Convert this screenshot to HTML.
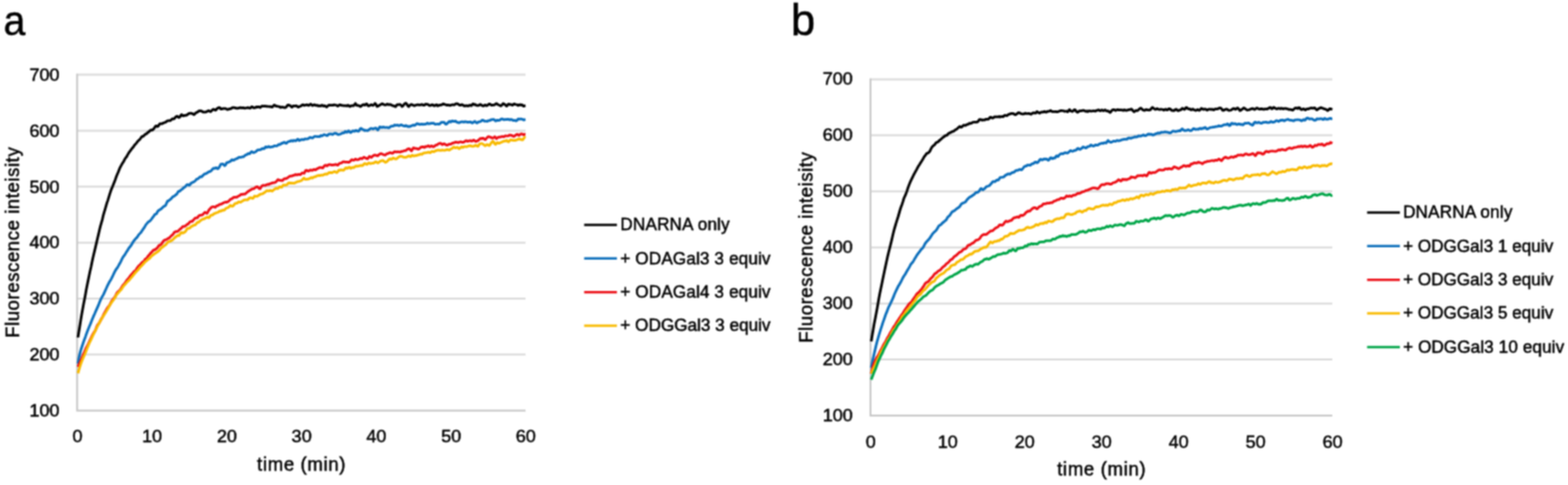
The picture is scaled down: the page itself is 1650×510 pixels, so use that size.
<!DOCTYPE html>
<html><head><meta charset="utf-8"><title>Fluorescence kinetics</title>
<style>
html,body{margin:0;padding:0;background:#fff;}
body{width:1650px;height:510px;overflow:hidden;}
svg{display:block;}
text{font-family:"Liberation Sans", Arial, sans-serif;fill:#000;stroke:#000;stroke-width:0.5px;}
.tick{font-size:19px;}
.title{font-size:19.5px;}
.legt{font-size:18px;}
.panel{font-size:45px;stroke-width:0.5px;}
.grid{stroke:#DADADA;stroke-width:2;fill:none;}
.axis{stroke:#C8C8C8;stroke-width:2;fill:none;}
.curve{fill:none;stroke-width:2.75;stroke-linejoin:round;stroke-linecap:butt;}
.leg{stroke-width:2.5;}
</style></head>
<body>
<svg width="1650" height="510" viewBox="0 0 1650 510">
<defs><filter id="soft" filterUnits="userSpaceOnUse" x="0" y="0" width="1650" height="510" color-interpolation-filters="sRGB"><feConvolveMatrix order="3" kernelMatrix="1 2 1 2 4 2 1 2 1" divisor="16" edgeMode="duplicate"/></filter></defs>
<g filter="url(#soft)">
<rect width="1650" height="510" fill="#fff"/>
<text x="3.8" y="36.6" class="panel" textLength="23" lengthAdjust="spacingAndGlyphs">a</text>
<text x="832.3" y="36.6" class="panel" style="font-size:46px">b</text>
<line x1="81.2" y1="78.60" x2="553.0" y2="78.60" class="grid"/>
<line x1="81.2" y1="137.45" x2="553.0" y2="137.45" class="grid"/>
<line x1="81.2" y1="196.30" x2="553.0" y2="196.30" class="grid"/>
<line x1="81.2" y1="255.15" x2="553.0" y2="255.15" class="grid"/>
<line x1="81.2" y1="314.00" x2="553.0" y2="314.00" class="grid"/>
<line x1="81.2" y1="372.85" x2="553.0" y2="372.85" class="grid"/>
<path d="M81.2 77.60 L81.2 431.70 L553.0 431.70" class="axis"/>
<text x="62.6" y="84.8" class="tick" text-anchor="end">700</text>
<text x="62.6" y="143.6" class="tick" text-anchor="end">600</text>
<text x="62.6" y="202.5" class="tick" text-anchor="end">500</text>
<text x="62.6" y="261.4" class="tick" text-anchor="end">400</text>
<text x="62.6" y="320.2" class="tick" text-anchor="end">300</text>
<text x="62.6" y="379.1" class="tick" text-anchor="end">200</text>
<text x="62.6" y="437.9" class="tick" text-anchor="end">100</text>
<text x="81.5" y="465.3" class="tick" text-anchor="middle">0</text>
<text x="160.1" y="465.3" class="tick" text-anchor="middle">10</text>
<text x="238.8" y="465.3" class="tick" text-anchor="middle">20</text>
<text x="317.4" y="465.3" class="tick" text-anchor="middle">30</text>
<text x="396.0" y="465.3" class="tick" text-anchor="middle">40</text>
<text x="474.7" y="465.3" class="tick" text-anchor="middle">50</text>
<text x="553.3" y="465.3" class="tick" text-anchor="middle">60</text>
<path d="M82.0 354.9 L83.0 348.7 L84.0 342.8 L84.9 337.1 L85.9 331.1 L86.9 325.6 L87.9 320.1 L88.9 314.9 L89.9 309.7 L90.8 304.4 L91.8 299.4 L92.8 294.6 L93.8 289.8 L94.8 285.0 L95.8 280.7 L96.7 276.2 L97.7 271.5 L98.7 267.3 L99.7 263.2 L100.7 258.9 L101.7 254.6 L102.6 250.7 L103.6 246.6 L104.6 242.3 L105.6 238.2 L106.6 234.6 L107.6 231.1 L108.5 227.2 L109.5 223.6 L110.5 220.3 L111.5 216.8 L112.5 213.4 L113.5 210.6 L114.4 207.7 L115.4 204.4 L116.4 201.3 L117.4 198.6 L118.4 196.3 L119.4 193.8 L120.3 191.4 L121.3 188.9 L122.3 186.0 L123.3 183.5 L124.3 181.3 L125.3 178.7 L126.2 176.5 L127.2 174.7 L128.2 172.8 L129.2 171.1 L130.2 169.7 L131.2 167.7 L132.1 166.1 L133.1 165.0 L134.1 163.1 L135.1 161.4 L136.1 159.8 L137.1 158.6 L138.0 157.3 L139.0 156.0 L140.0 154.9 L141.0 153.4 L142.0 152.2 L143.0 151.1 L143.9 150.0 L144.9 148.6 L145.9 147.6 L146.9 146.8 L147.9 145.5 L148.9 144.1 L149.8 143.4 L150.8 143.4 L151.8 142.2 L152.8 141.3 L153.8 140.9 L154.8 140.2 L155.7 139.1 L156.7 138.7 L157.7 137.5 L158.7 136.7 L159.7 136.9 L160.7 136.4 L161.6 135.7 L162.6 134.3 L163.6 132.7 L164.6 132.3 L165.6 133.2 L166.6 132.5 L167.5 131.0 L168.5 130.0 L169.5 130.1 L170.5 130.2 L171.5 129.5 L172.5 129.1 L173.4 128.8 L174.4 128.4 L175.4 127.6 L176.4 127.0 L177.4 126.9 L178.4 126.9 L179.3 126.9 L180.3 125.9 L181.3 124.9 L182.3 125.1 L183.3 125.0 L184.3 123.7 L185.2 122.7 L186.2 122.2 L187.2 122.8 L188.2 123.5 L189.2 123.2 L190.2 121.3 L191.1 120.5 L192.1 121.7 L193.1 121.9 L194.1 121.3 L195.1 121.4 L196.1 121.2 L197.0 120.7 L198.0 119.9 L199.0 119.3 L200.0 119.2 L201.0 119.1 L202.0 119.3 L202.9 119.7 L203.9 120.6 L204.9 120.0 L205.9 118.7 L206.9 118.4 L207.9 117.8 L208.8 117.1 L209.8 116.6 L210.8 116.5 L211.8 116.7 L212.8 117.3 L213.8 117.9 L214.7 117.9 L215.7 117.8 L216.7 117.8 L217.7 117.3 L218.7 116.7 L219.7 116.4 L220.6 116.9 L221.6 117.4 L222.6 116.5 L223.6 115.5 L224.6 114.9 L225.6 115.2 L226.5 115.9 L227.5 115.4 L228.5 114.0 L229.5 113.6 L230.5 113.1 L231.5 113.4 L232.4 114.6 L233.4 114.6 L234.4 114.2 L235.4 114.0 L236.4 114.0 L237.4 114.1 L238.3 114.6 L239.3 115.2 L240.3 114.9 L241.3 114.6 L242.3 114.3 L243.3 114.1 L244.2 113.4 L245.2 113.1 L246.2 113.2 L247.2 113.4 L248.2 113.6 L249.2 113.9 L250.1 113.9 L251.1 113.7 L252.1 113.3 L253.1 113.1 L254.1 113.3 L255.1 113.6 L256.0 113.2 L257.0 113.6 L258.0 113.8 L259.0 113.5 L260.0 113.3 L261.0 113.1 L261.9 113.5 L262.9 113.8 L263.9 113.2 L264.9 112.2 L265.9 112.6 L266.9 113.4 L267.8 113.3 L268.8 113.1 L269.8 112.3 L270.8 112.8 L271.8 112.4 L272.8 112.4 L273.7 113.0 L274.7 112.3 L275.7 111.5 L276.7 111.6 L277.7 111.6 L278.7 111.5 L279.6 111.7 L280.6 111.9 L281.6 111.9 L282.6 112.0 L283.6 112.2 L284.6 112.0 L285.5 112.4 L286.5 112.6 L287.5 111.5 L288.5 110.5 L289.5 110.9 L290.5 111.7 L291.4 111.7 L292.4 111.9 L293.4 112.0 L294.4 112.4 L295.4 113.1 L296.4 112.6 L297.3 112.6 L298.3 112.8 L299.3 113.2 L300.3 113.2 L301.3 112.4 L302.3 110.9 L303.2 110.3 L304.2 110.8 L305.2 110.9 L306.2 111.9 L307.2 112.7 L308.2 111.8 L309.1 111.3 L310.1 111.5 L311.1 111.2 L312.1 111.3 L313.1 112.2 L314.1 112.6 L315.0 112.0 L316.0 111.7 L317.0 111.3 L318.0 110.3 L319.0 110.1 L320.0 110.8 L320.9 110.6 L321.9 110.3 L322.9 110.2 L323.9 110.4 L324.9 110.9 L325.9 110.2 L326.8 109.5 L327.8 110.2 L328.8 111.1 L329.8 110.6 L330.8 110.1 L331.8 110.6 L332.7 110.9 L333.7 110.6 L334.7 111.3 L335.7 111.1 L336.7 111.3 L337.7 111.4 L338.6 110.6 L339.6 110.8 L340.6 111.5 L341.6 111.1 L342.6 111.7 L343.6 112.5 L344.5 111.9 L345.5 110.9 L346.5 110.5 L347.5 110.6 L348.5 110.7 L349.5 110.7 L350.4 110.6 L351.4 110.2 L352.4 110.4 L353.4 110.5 L354.4 110.8 L355.4 111.5 L356.3 111.2 L357.3 110.1 L358.3 110.3 L359.3 110.8 L360.3 110.8 L361.3 111.0 L362.2 111.0 L363.2 111.1 L364.2 111.2 L365.2 111.4 L366.2 110.6 L367.2 111.2 L368.1 112.0 L369.1 111.5 L370.1 111.1 L371.1 111.1 L372.1 111.2 L373.1 109.8 L374.0 108.8 L375.0 110.4 L376.0 110.9 L377.0 110.9 L378.0 111.2 L379.0 112.1 L379.9 111.8 L380.9 110.8 L381.9 110.2 L382.9 109.9 L383.9 110.5 L384.9 109.9 L385.8 109.1 L386.8 110.6 L387.8 111.4 L388.8 111.0 L389.8 110.5 L390.8 110.1 L391.7 110.5 L392.7 110.9 L393.7 109.9 L394.7 108.7 L395.7 109.9 L396.7 112.0 L397.6 111.7 L398.6 111.1 L399.6 110.5 L400.6 110.0 L401.6 109.2 L402.6 109.2 L403.5 109.7 L404.5 110.2 L405.5 110.4 L406.5 110.0 L407.5 109.5 L408.5 109.9 L409.4 110.2 L410.4 109.8 L411.4 110.1 L412.4 110.8 L413.4 111.2 L414.4 111.4 L415.3 111.9 L416.3 112.2 L417.3 110.6 L418.3 110.0 L419.3 110.2 L420.3 109.8 L421.2 109.9 L422.2 110.8 L423.2 112.0 L424.2 111.2 L425.2 109.8 L426.2 108.8 L427.1 108.5 L428.1 109.4 L429.1 111.4 L430.1 112.0 L431.1 110.8 L432.1 110.1 L433.0 109.9 L434.0 110.3 L435.0 110.8 L436.0 111.2 L437.0 110.7 L438.0 110.5 L438.9 110.2 L439.9 110.1 L440.9 110.3 L441.9 110.3 L442.9 110.1 L443.9 109.9 L444.8 110.1 L445.8 110.7 L446.8 110.5 L447.8 109.5 L448.8 109.7 L449.8 109.7 L450.7 110.1 L451.7 110.8 L452.7 111.0 L453.7 110.5 L454.7 110.1 L455.7 110.3 L456.6 111.2 L457.6 111.1 L458.6 110.3 L459.6 110.1 L460.6 111.3 L461.6 110.9 L462.5 110.6 L463.5 110.4 L464.5 110.4 L465.5 109.8 L466.5 109.2 L467.5 109.6 L468.4 109.9 L469.4 110.2 L470.4 110.6 L471.4 110.3 L472.4 110.6 L473.4 110.9 L474.3 110.7 L475.3 110.3 L476.3 110.0 L477.3 110.3 L478.3 110.2 L479.3 109.3 L480.2 109.0 L481.2 109.1 L482.2 109.6 L483.2 110.3 L484.2 110.7 L485.2 110.4 L486.1 109.9 L487.1 110.4 L488.1 111.3 L489.1 111.2 L490.1 111.3 L491.1 111.0 L492.0 111.4 L493.0 111.4 L494.0 110.7 L495.0 110.8 L496.0 111.1 L497.0 109.8 L497.9 109.2 L498.9 110.1 L499.9 109.8 L500.9 110.4 L501.9 110.9 L502.9 111.0 L503.8 110.9 L504.8 109.8 L505.8 109.9 L506.8 110.7 L507.8 111.1 L508.8 111.4 L509.7 110.7 L510.7 110.4 L511.7 111.2 L512.7 111.0 L513.7 110.1 L514.7 109.3 L515.6 109.3 L516.6 110.4 L517.6 110.7 L518.6 110.4 L519.6 110.5 L520.6 110.2 L521.5 109.2 L522.5 108.9 L523.5 109.7 L524.5 110.2 L525.5 110.5 L526.5 111.3 L527.4 111.1 L528.4 110.3 L529.4 108.9 L530.4 109.2 L531.4 110.1 L532.4 111.0 L533.3 111.6 L534.3 110.1 L535.3 109.3 L536.3 110.0 L537.3 109.9 L538.3 110.1 L539.2 110.7 L540.2 109.7 L541.2 109.2 L542.2 109.7 L543.2 110.0 L544.2 110.2 L545.1 110.9 L546.1 110.4 L547.1 110.0 L548.1 110.5 L549.1 110.1 L550.1 110.9 L551.0 111.7 L552.0 111.2 L553.0 110.9" stroke="#000000" class="curve"/>
<path d="M82.0 382.4 L83.0 376.6 L84.0 372.2 L84.9 368.7 L85.9 365.5 L86.9 362.5 L87.9 359.5 L88.9 356.8 L89.9 354.2 L90.8 351.4 L91.8 348.8 L92.8 346.3 L93.8 343.8 L94.8 341.5 L95.8 339.1 L96.7 336.6 L97.7 334.3 L98.7 331.9 L99.7 329.7 L100.7 327.3 L101.7 325.2 L102.6 323.1 L103.6 320.9 L104.6 318.3 L105.6 315.9 L106.6 313.7 L107.6 311.9 L108.5 310.3 L109.5 308.3 L110.5 306.2 L111.5 304.0 L112.5 301.7 L113.5 299.7 L114.4 297.9 L115.4 296.0 L116.4 294.5 L117.4 292.7 L118.4 290.7 L119.4 288.5 L120.3 286.6 L121.3 284.7 L122.3 283.0 L123.3 281.8 L124.3 280.1 L125.3 278.3 L126.2 276.8 L127.2 274.9 L128.2 272.7 L129.2 270.8 L130.2 269.3 L131.2 268.1 L132.1 266.6 L133.1 264.9 L134.1 263.5 L135.1 261.8 L136.1 260.2 L137.1 259.2 L138.0 257.9 L139.0 256.3 L140.0 254.5 L141.0 253.1 L142.0 251.8 L143.0 250.7 L143.9 249.9 L144.9 248.5 L145.9 246.9 L146.9 245.9 L147.9 244.9 L148.9 243.6 L149.8 242.1 L150.8 240.7 L151.8 239.4 L152.8 237.6 L153.8 235.9 L154.8 234.9 L155.7 233.7 L156.7 232.9 L157.7 232.4 L158.7 231.3 L159.7 230.0 L160.7 228.6 L161.6 227.5 L162.6 225.9 L163.6 225.2 L164.6 224.8 L165.6 222.9 L166.6 221.5 L167.5 221.0 L168.5 220.2 L169.5 219.7 L170.5 218.7 L171.5 217.9 L172.5 216.8 L173.4 216.6 L174.4 215.8 L175.4 213.3 L176.4 211.4 L177.4 211.1 L178.4 210.3 L179.3 209.6 L180.3 208.8 L181.3 207.4 L182.3 206.5 L183.3 206.4 L184.3 205.4 L185.2 204.7 L186.2 204.0 L187.2 202.0 L188.2 201.0 L189.2 201.0 L190.2 199.9 L191.1 199.4 L192.1 198.7 L193.1 197.5 L194.1 197.0 L195.1 196.2 L196.1 194.8 L197.0 194.1 L198.0 194.2 L199.0 194.9 L200.0 194.2 L201.0 192.6 L202.0 192.2 L202.9 191.6 L203.9 191.2 L204.9 190.6 L205.9 189.6 L206.9 188.3 L207.9 188.2 L208.8 187.6 L209.8 186.6 L210.8 185.8 L211.8 186.0 L212.8 185.3 L213.8 184.3 L214.7 183.3 L215.7 182.8 L216.7 182.6 L217.7 182.0 L218.7 181.4 L219.7 180.7 L220.6 180.4 L221.6 180.1 L222.6 179.2 L223.6 177.9 L224.6 176.9 L225.6 177.2 L226.5 176.7 L227.5 176.3 L228.5 177.3 L229.5 177.4 L230.5 176.2 L231.5 174.4 L232.4 172.6 L233.4 172.5 L234.4 172.4 L235.4 173.2 L236.4 174.2 L237.4 173.4 L238.3 171.4 L239.3 170.8 L240.3 170.8 L241.3 170.0 L242.3 169.8 L243.3 168.5 L244.2 167.8 L245.2 168.5 L246.2 168.4 L247.2 167.5 L248.2 167.2 L249.2 166.7 L250.1 166.5 L251.1 165.6 L252.1 165.3 L253.1 165.5 L254.1 165.2 L255.1 164.9 L256.0 165.0 L257.0 164.2 L258.0 163.3 L259.0 162.8 L260.0 162.5 L261.0 161.5 L261.9 161.7 L262.9 161.6 L263.9 160.1 L264.9 159.5 L265.9 160.2 L266.9 160.5 L267.8 160.1 L268.8 159.8 L269.8 159.0 L270.8 157.8 L271.8 157.7 L272.8 157.7 L273.7 157.5 L274.7 157.1 L275.7 156.4 L276.7 156.2 L277.7 156.4 L278.7 155.6 L279.6 154.4 L280.6 154.8 L281.6 154.8 L282.6 154.0 L283.6 154.5 L284.6 154.9 L285.5 154.4 L286.5 154.4 L287.5 154.1 L288.5 153.4 L289.5 153.4 L290.5 153.5 L291.4 153.3 L292.4 152.6 L293.4 151.8 L294.4 152.1 L295.4 151.6 L296.4 150.5 L297.3 150.5 L298.3 149.8 L299.3 149.6 L300.3 150.5 L301.3 150.8 L302.3 149.8 L303.2 149.0 L304.2 148.7 L305.2 148.6 L306.2 147.9 L307.2 147.9 L308.2 148.4 L309.1 147.7 L310.1 147.8 L311.1 148.2 L312.1 147.5 L313.1 146.3 L314.1 146.7 L315.0 147.8 L316.0 147.3 L317.0 146.8 L318.0 146.7 L319.0 146.9 L320.0 146.8 L320.9 146.0 L321.9 146.1 L322.9 146.1 L323.9 145.9 L324.9 145.5 L325.9 144.6 L326.8 144.5 L327.8 145.0 L328.8 145.1 L329.8 144.4 L330.8 143.5 L331.8 143.4 L332.7 143.5 L333.7 143.6 L334.7 143.5 L335.7 143.5 L336.7 143.5 L337.7 142.5 L338.6 142.8 L339.6 142.6 L340.6 141.6 L341.6 141.7 L342.6 142.0 L343.6 142.5 L344.5 142.6 L345.5 141.5 L346.5 140.8 L347.5 141.0 L348.5 140.8 L349.5 141.4 L350.4 141.3 L351.4 140.5 L352.4 140.1 L353.4 140.1 L354.4 140.7 L355.4 141.3 L356.3 141.5 L357.3 141.2 L358.3 140.9 L359.3 140.5 L360.3 139.7 L361.3 139.9 L362.2 139.7 L363.2 138.3 L364.2 138.9 L365.2 139.1 L366.2 137.9 L367.2 137.7 L368.1 139.0 L369.1 139.4 L370.1 138.7 L371.1 137.6 L372.1 137.8 L373.1 138.1 L374.0 137.4 L375.0 137.1 L376.0 137.8 L377.0 138.0 L378.0 137.3 L379.0 135.5 L379.9 135.0 L380.9 135.6 L381.9 136.2 L382.9 136.6 L383.9 137.3 L384.9 137.0 L385.8 137.2 L386.8 137.3 L387.8 136.7 L388.8 136.0 L389.8 135.2 L390.8 135.0 L391.7 135.3 L392.7 135.6 L393.7 135.1 L394.7 134.8 L395.7 134.7 L396.7 135.9 L397.6 136.7 L398.6 135.2 L399.6 133.5 L400.6 133.7 L401.6 134.1 L402.6 133.7 L403.5 133.6 L404.5 133.9 L405.5 134.2 L406.5 134.0 L407.5 133.9 L408.5 134.4 L409.4 134.4 L410.4 133.5 L411.4 132.8 L412.4 132.6 L413.4 132.7 L414.4 132.1 L415.3 131.4 L416.3 131.9 L417.3 131.7 L418.3 131.5 L419.3 132.1 L420.3 132.2 L421.2 131.5 L422.2 131.2 L423.2 131.7 L424.2 132.1 L425.2 132.4 L426.2 132.6 L427.1 131.9 L428.1 132.4 L429.1 133.1 L430.1 132.9 L431.1 133.2 L432.1 132.8 L433.0 132.2 L434.0 131.9 L435.0 131.5 L436.0 131.9 L437.0 131.4 L438.0 130.6 L438.9 130.0 L439.9 130.2 L440.9 130.7 L441.9 130.9 L442.9 130.7 L443.9 130.4 L444.8 130.8 L445.8 130.6 L446.8 130.5 L447.8 130.5 L448.8 130.1 L449.8 129.5 L450.7 130.1 L451.7 130.2 L452.7 129.9 L453.7 129.6 L454.7 129.6 L455.7 129.5 L456.6 129.7 L457.6 130.6 L458.6 130.6 L459.6 130.5 L460.6 130.3 L461.6 130.6 L462.5 130.5 L463.5 129.5 L464.5 128.6 L465.5 128.7 L466.5 128.7 L467.5 128.7 L468.4 130.0 L469.4 130.7 L470.4 130.0 L471.4 129.0 L472.4 127.9 L473.4 127.7 L474.3 128.4 L475.3 127.3 L476.3 127.1 L477.3 127.7 L478.3 127.6 L479.3 127.2 L480.2 128.0 L481.2 128.7 L482.2 128.9 L483.2 129.1 L484.2 128.5 L485.2 128.2 L486.1 128.0 L487.1 128.2 L488.1 128.4 L489.1 127.9 L490.1 128.2 L491.1 128.2 L492.0 128.6 L493.0 128.3 L494.0 128.3 L495.0 128.2 L496.0 128.8 L497.0 129.4 L497.9 128.9 L498.9 127.8 L499.9 127.7 L500.9 128.8 L501.9 129.3 L502.9 128.6 L503.8 128.0 L504.8 128.0 L505.8 127.7 L506.8 126.8 L507.8 126.3 L508.8 126.7 L509.7 127.4 L510.7 127.4 L511.7 127.5 L512.7 127.6 L513.7 126.8 L514.7 126.8 L515.6 126.7 L516.6 125.9 L517.6 125.8 L518.6 125.7 L519.6 125.6 L520.6 126.3 L521.5 127.2 L522.5 126.9 L523.5 126.3 L524.5 126.7 L525.5 126.5 L526.5 125.8 L527.4 125.1 L528.4 125.0 L529.4 125.5 L530.4 125.9 L531.4 125.6 L532.4 125.7 L533.3 125.7 L534.3 125.3 L535.3 125.6 L536.3 126.0 L537.3 125.6 L538.3 125.7 L539.2 126.1 L540.2 126.7 L541.2 126.6 L542.2 126.7 L543.2 127.1 L544.2 126.6 L545.1 125.1 L546.1 125.2 L547.1 125.3 L548.1 125.0 L549.1 125.3 L550.1 125.6 L551.0 126.2 L552.0 125.8 L553.0 125.6" stroke="#0A6DBA" class="curve"/>
<path d="M82.0 385.7 L83.0 383.4 L84.0 381.3 L84.9 379.2 L85.9 376.9 L86.9 374.5 L87.9 372.3 L88.9 370.0 L89.9 367.6 L90.8 365.7 L91.8 363.8 L92.8 361.9 L93.8 359.7 L94.8 357.5 L95.8 355.5 L96.7 353.6 L97.7 351.6 L98.7 349.9 L99.7 348.5 L100.7 346.6 L101.7 343.9 L102.6 341.9 L103.6 340.6 L104.6 339.2 L105.6 337.3 L106.6 335.3 L107.6 334.0 L108.5 332.0 L109.5 329.9 L110.5 328.2 L111.5 326.5 L112.5 324.8 L113.5 323.1 L114.4 322.1 L115.4 320.8 L116.4 318.8 L117.4 316.9 L118.4 315.5 L119.4 314.1 L120.3 313.0 L121.3 311.6 L122.3 309.5 L123.3 307.7 L124.3 306.6 L125.3 305.9 L126.2 305.0 L127.2 303.6 L128.2 301.9 L129.2 300.2 L130.2 299.1 L131.2 298.2 L132.1 296.7 L133.1 295.2 L134.1 294.0 L135.1 292.8 L136.1 291.5 L137.1 290.1 L138.0 289.0 L139.0 288.0 L140.0 286.9 L141.0 285.6 L142.0 284.8 L143.0 284.1 L143.9 282.4 L144.9 281.0 L145.9 279.7 L146.9 278.8 L147.9 277.9 L148.9 276.7 L149.8 275.8 L150.8 275.2 L151.8 274.1 L152.8 272.5 L153.8 272.0 L154.8 270.9 L155.7 269.4 L156.7 268.3 L157.7 267.2 L158.7 266.0 L159.7 265.0 L160.7 263.9 L161.6 262.8 L162.6 262.8 L163.6 262.2 L164.6 261.4 L165.6 260.5 L166.6 259.1 L167.5 257.9 L168.5 257.8 L169.5 257.0 L170.5 255.6 L171.5 254.2 L172.5 252.9 L173.4 252.4 L174.4 252.2 L175.4 251.8 L176.4 251.0 L177.4 250.5 L178.4 250.0 L179.3 248.9 L180.3 247.9 L181.3 247.2 L182.3 246.1 L183.3 244.5 L184.3 243.8 L185.2 243.4 L186.2 243.5 L187.2 243.2 L188.2 242.1 L189.2 241.1 L190.2 240.5 L191.1 239.6 L192.1 238.4 L193.1 238.1 L194.1 238.1 L195.1 237.5 L196.1 236.7 L197.0 235.9 L198.0 235.5 L199.0 234.4 L200.0 233.2 L201.0 232.9 L202.0 232.9 L202.9 232.1 L203.9 230.9 L204.9 229.8 L205.9 229.2 L206.9 229.2 L207.9 228.9 L208.8 227.3 L209.8 226.6 L210.8 226.3 L211.8 226.1 L212.8 226.1 L213.8 225.2 L214.7 224.0 L215.7 223.2 L216.7 223.7 L217.7 224.4 L218.7 222.9 L219.7 221.1 L220.6 219.9 L221.6 219.0 L222.6 217.8 L223.6 217.5 L224.6 217.4 L225.6 217.7 L226.5 218.0 L227.5 216.9 L228.5 216.3 L229.5 216.1 L230.5 215.3 L231.5 214.9 L232.4 214.8 L233.4 214.4 L234.4 213.8 L235.4 213.2 L236.4 212.8 L237.4 212.5 L238.3 212.8 L239.3 212.3 L240.3 211.9 L241.3 210.9 L242.3 209.7 L243.3 209.2 L244.2 208.9 L245.2 208.0 L246.2 207.3 L247.2 207.5 L248.2 207.2 L249.2 207.4 L250.1 206.8 L251.1 206.0 L252.1 205.7 L253.1 204.8 L254.1 204.3 L255.1 204.5 L256.0 204.1 L257.0 204.0 L258.0 204.0 L259.0 203.1 L260.0 202.2 L261.0 201.2 L261.9 200.9 L262.9 200.0 L263.9 199.7 L264.9 198.8 L265.9 198.6 L266.9 198.5 L267.8 197.9 L268.8 197.2 L269.8 196.5 L270.8 196.3 L271.8 197.3 L272.8 198.3 L273.7 198.4 L274.7 196.8 L275.7 195.4 L276.7 194.9 L277.7 194.9 L278.7 195.0 L279.6 194.8 L280.6 194.2 L281.6 193.9 L282.6 194.0 L283.6 193.3 L284.6 193.2 L285.5 192.8 L286.5 192.4 L287.5 192.1 L288.5 192.1 L289.5 191.8 L290.5 191.1 L291.4 190.2 L292.4 188.8 L293.4 189.3 L294.4 189.7 L295.4 189.6 L296.4 189.9 L297.3 189.9 L298.3 188.6 L299.3 187.9 L300.3 188.0 L301.3 187.6 L302.3 187.3 L303.2 186.5 L304.2 185.7 L305.2 185.2 L306.2 185.1 L307.2 185.1 L308.2 184.5 L309.1 184.4 L310.1 183.9 L311.1 183.5 L312.1 183.9 L313.1 183.9 L314.1 183.3 L315.0 183.5 L316.0 183.5 L317.0 182.8 L318.0 181.8 L319.0 182.0 L320.0 182.3 L320.9 180.6 L321.9 179.0 L322.9 179.0 L323.9 179.9 L324.9 179.8 L325.9 179.1 L326.8 178.7 L327.8 179.1 L328.8 179.2 L329.8 178.3 L330.8 178.1 L331.8 178.7 L332.7 178.2 L333.7 177.5 L334.7 177.0 L335.7 176.5 L336.7 176.0 L337.7 176.0 L338.6 176.5 L339.6 176.6 L340.6 175.3 L341.6 174.0 L342.6 173.7 L343.6 174.4 L344.5 174.3 L345.5 173.3 L346.5 173.0 L347.5 173.2 L348.5 173.4 L349.5 173.6 L350.4 173.4 L351.4 173.4 L352.4 173.1 L353.4 172.9 L354.4 173.2 L355.4 173.7 L356.3 172.8 L357.3 171.8 L358.3 171.5 L359.3 171.3 L360.3 170.6 L361.3 170.1 L362.2 170.1 L363.2 170.5 L364.2 170.4 L365.2 170.3 L366.2 170.6 L367.2 170.6 L368.1 169.9 L369.1 169.0 L370.1 167.8 L371.1 168.2 L372.1 168.5 L373.1 168.0 L374.0 167.2 L375.0 167.8 L376.0 168.0 L377.0 167.8 L378.0 167.4 L379.0 166.7 L379.9 166.5 L380.9 167.0 L381.9 166.2 L382.9 165.3 L383.9 165.8 L384.9 166.2 L385.8 166.7 L386.8 167.0 L387.8 165.6 L388.8 164.5 L389.8 165.1 L390.8 165.6 L391.7 164.6 L392.7 163.8 L393.7 163.1 L394.7 163.0 L395.7 163.4 L396.7 163.6 L397.6 163.8 L398.6 162.7 L399.6 162.1 L400.6 161.6 L401.6 161.6 L402.6 162.2 L403.5 162.5 L404.5 163.0 L405.5 163.1 L406.5 162.1 L407.5 161.6 L408.5 161.5 L409.4 160.8 L410.4 160.5 L411.4 160.6 L412.4 161.2 L413.4 161.2 L414.4 160.0 L415.3 159.5 L416.3 159.7 L417.3 159.9 L418.3 159.7 L419.3 159.6 L420.3 159.9 L421.2 160.0 L422.2 159.2 L423.2 159.3 L424.2 159.0 L425.2 158.5 L426.2 158.4 L427.1 158.4 L428.1 157.3 L429.1 156.7 L430.1 156.4 L431.1 156.6 L432.1 158.0 L433.0 158.7 L434.0 157.0 L435.0 155.5 L436.0 155.6 L437.0 156.2 L438.0 156.2 L438.9 156.3 L439.9 156.9 L440.9 156.6 L441.9 155.7 L442.9 154.7 L443.9 154.7 L444.8 154.3 L445.8 154.8 L446.8 155.1 L447.8 154.0 L448.8 154.2 L449.8 153.7 L450.7 153.2 L451.7 154.1 L452.7 154.3 L453.7 153.4 L454.7 153.6 L455.7 154.3 L456.6 154.2 L457.6 153.4 L458.6 152.6 L459.6 152.5 L460.6 151.8 L461.6 151.0 L462.5 150.8 L463.5 150.7 L464.5 151.3 L465.5 152.1 L466.5 151.4 L467.5 151.2 L468.4 151.8 L469.4 152.4 L470.4 152.7 L471.4 152.2 L472.4 151.6 L473.4 151.7 L474.3 151.6 L475.3 151.0 L476.3 150.3 L477.3 150.3 L478.3 149.9 L479.3 149.4 L480.2 149.6 L481.2 149.7 L482.2 150.0 L483.2 149.5 L484.2 149.2 L485.2 149.2 L486.1 149.6 L487.1 149.7 L488.1 149.4 L489.1 148.8 L490.1 147.9 L491.1 148.0 L492.0 148.6 L493.0 148.2 L494.0 148.1 L495.0 147.9 L496.0 148.3 L497.0 148.3 L497.9 147.3 L498.9 147.3 L499.9 148.4 L500.9 148.7 L501.9 148.2 L502.9 147.9 L503.8 147.1 L504.8 146.1 L505.8 145.6 L506.8 145.9 L507.8 145.3 L508.8 145.4 L509.7 146.4 L510.7 146.8 L511.7 145.6 L512.7 144.6 L513.7 143.7 L514.7 143.8 L515.6 144.1 L516.6 144.3 L517.6 145.2 L518.6 145.2 L519.6 144.6 L520.6 143.8 L521.5 144.7 L522.5 145.8 L523.5 144.7 L524.5 144.4 L525.5 144.1 L526.5 144.1 L527.4 143.8 L528.4 143.5 L529.4 143.7 L530.4 143.8 L531.4 142.9 L532.4 142.9 L533.3 143.0 L534.3 142.9 L535.3 142.7 L536.3 142.0 L537.3 142.2 L538.3 142.4 L539.2 142.7 L540.2 143.3 L541.2 143.3 L542.2 142.4 L543.2 141.7 L544.2 141.2 L545.1 141.7 L546.1 142.3 L547.1 141.6 L548.1 140.9 L549.1 140.8 L550.1 141.4 L551.0 141.7 L552.0 141.2 L553.0 141.3" stroke="#EC0E16" class="curve"/>
<path d="M82.0 392.5 L83.0 389.0 L84.0 385.9 L84.9 383.0 L85.9 380.2 L86.9 377.7 L87.9 375.4 L88.9 373.2 L89.9 370.8 L90.8 368.4 L91.8 366.0 L92.8 363.5 L93.8 361.1 L94.8 359.2 L95.8 357.2 L96.7 355.1 L97.7 352.9 L98.7 350.9 L99.7 348.8 L100.7 346.8 L101.7 344.9 L102.6 343.0 L103.6 341.2 L104.6 339.3 L105.6 337.3 L106.6 335.8 L107.6 334.1 L108.5 332.5 L109.5 331.1 L110.5 329.5 L111.5 327.9 L112.5 326.2 L113.5 324.7 L114.4 323.0 L115.4 321.1 L116.4 319.6 L117.4 318.0 L118.4 316.6 L119.4 315.3 L120.3 314.0 L121.3 312.3 L122.3 310.3 L123.3 309.1 L124.3 308.0 L125.3 306.9 L126.2 305.7 L127.2 304.9 L128.2 303.6 L129.2 301.9 L130.2 300.5 L131.2 299.6 L132.1 298.5 L133.1 297.3 L134.1 296.2 L135.1 295.4 L136.1 294.3 L137.1 293.0 L138.0 292.1 L139.0 290.9 L140.0 289.6 L141.0 288.4 L142.0 287.1 L143.0 286.0 L143.9 285.0 L144.9 284.2 L145.9 283.0 L146.9 281.6 L147.9 280.5 L148.9 279.7 L149.8 278.6 L150.8 277.5 L151.8 276.3 L152.8 275.2 L153.8 274.6 L154.8 273.7 L155.7 272.8 L156.7 272.3 L157.7 271.5 L158.7 270.1 L159.7 269.1 L160.7 268.4 L161.6 267.6 L162.6 266.9 L163.6 266.3 L164.6 265.5 L165.6 265.0 L166.6 264.1 L167.5 263.4 L168.5 262.1 L169.5 260.8 L170.5 260.2 L171.5 259.5 L172.5 258.5 L173.4 258.0 L174.4 257.4 L175.4 256.2 L176.4 254.8 L177.4 254.1 L178.4 253.9 L179.3 253.7 L180.3 252.9 L181.3 252.4 L182.3 251.5 L183.3 250.6 L184.3 249.4 L185.2 249.2 L186.2 248.0 L187.2 247.5 L188.2 247.8 L189.2 246.6 L190.2 244.8 L191.1 244.5 L192.1 245.2 L193.1 244.8 L194.1 244.2 L195.1 243.5 L196.1 242.0 L197.0 240.4 L198.0 240.2 L199.0 240.1 L200.0 239.5 L201.0 238.4 L202.0 237.8 L202.9 237.6 L203.9 236.7 L204.9 236.7 L205.9 236.1 L206.9 234.7 L207.9 233.7 L208.8 233.8 L209.8 233.1 L210.8 232.0 L211.8 231.4 L212.8 230.8 L213.8 230.4 L214.7 230.2 L215.7 229.6 L216.7 229.0 L217.7 228.6 L218.7 228.3 L219.7 229.1 L220.6 228.2 L221.6 226.5 L222.6 226.2 L223.6 226.2 L224.6 225.2 L225.6 224.5 L226.5 224.4 L227.5 223.8 L228.5 223.5 L229.5 223.2 L230.5 222.4 L231.5 221.8 L232.4 222.1 L233.4 221.5 L234.4 220.8 L235.4 221.2 L236.4 220.8 L237.4 219.4 L238.3 218.8 L239.3 218.5 L240.3 218.1 L241.3 217.3 L242.3 215.9 L243.3 216.6 L244.2 217.0 L245.2 216.7 L246.2 215.5 L247.2 214.1 L248.2 213.9 L249.2 213.7 L250.1 213.2 L251.1 212.2 L252.1 212.5 L253.1 212.8 L254.1 211.9 L255.1 211.4 L256.0 210.8 L257.0 210.4 L258.0 210.1 L259.0 210.0 L260.0 210.3 L261.0 209.9 L261.9 208.6 L262.9 208.1 L263.9 207.9 L264.9 208.3 L265.9 208.7 L266.9 207.7 L267.8 206.2 L268.8 206.3 L269.8 206.4 L270.8 206.4 L271.8 205.7 L272.8 205.0 L273.7 204.4 L274.7 204.1 L275.7 204.0 L276.7 203.5 L277.7 202.8 L278.7 202.2 L279.6 201.5 L280.6 200.6 L281.6 200.7 L282.6 200.9 L283.6 200.7 L284.6 200.1 L285.5 200.7 L286.5 201.0 L287.5 200.1 L288.5 199.1 L289.5 198.7 L290.5 197.8 L291.4 198.0 L292.4 198.4 L293.4 197.3 L294.4 196.3 L295.4 196.9 L296.4 197.0 L297.3 195.6 L298.3 194.5 L299.3 194.5 L300.3 194.8 L301.3 194.5 L302.3 193.8 L303.2 192.7 L304.2 192.2 L305.2 192.6 L306.2 192.4 L307.2 192.6 L308.2 192.5 L309.1 192.8 L310.1 192.5 L311.1 191.8 L312.1 191.5 L313.1 190.9 L314.1 190.8 L315.0 190.6 L316.0 190.3 L317.0 190.0 L318.0 189.2 L319.0 187.9 L320.0 187.3 L320.9 188.5 L321.9 188.6 L322.9 188.4 L323.9 188.4 L324.9 187.9 L325.9 187.8 L326.8 187.0 L327.8 186.6 L328.8 187.3 L329.8 186.5 L330.8 185.9 L331.8 186.0 L332.7 185.3 L333.7 184.9 L334.7 184.7 L335.7 184.4 L336.7 184.7 L337.7 184.1 L338.6 184.1 L339.6 184.3 L340.6 183.8 L341.6 183.2 L342.6 182.9 L343.6 183.3 L344.5 182.9 L345.5 182.0 L346.5 181.3 L347.5 181.6 L348.5 181.4 L349.5 181.7 L350.4 181.1 L351.4 180.5 L352.4 180.4 L353.4 181.0 L354.4 181.5 L355.4 180.7 L356.3 179.1 L357.3 178.9 L358.3 179.1 L359.3 178.6 L360.3 178.9 L361.3 179.1 L362.2 178.5 L363.2 176.9 L364.2 176.4 L365.2 177.2 L366.2 176.8 L367.2 175.8 L368.1 175.8 L369.1 177.1 L370.1 176.5 L371.1 176.0 L372.1 176.3 L373.1 175.6 L374.0 174.9 L375.0 174.7 L376.0 174.9 L377.0 174.7 L378.0 174.5 L379.0 174.0 L379.9 173.9 L380.9 174.3 L381.9 174.0 L382.9 172.5 L383.9 171.9 L384.9 172.3 L385.8 172.9 L386.8 172.4 L387.8 171.3 L388.8 171.5 L389.8 172.1 L390.8 171.8 L391.7 171.5 L392.7 171.6 L393.7 171.3 L394.7 170.3 L395.7 170.1 L396.7 170.8 L397.6 171.4 L398.6 170.8 L399.6 169.9 L400.6 169.3 L401.6 169.2 L402.6 168.7 L403.5 169.0 L404.5 170.0 L405.5 170.8 L406.5 170.3 L407.5 169.6 L408.5 168.5 L409.4 167.5 L410.4 166.9 L411.4 167.5 L412.4 167.4 L413.4 166.1 L414.4 166.3 L415.3 166.9 L416.3 167.2 L417.3 167.1 L418.3 166.1 L419.3 165.3 L420.3 164.6 L421.2 164.4 L422.2 164.4 L423.2 164.5 L424.2 165.1 L425.2 165.3 L426.2 165.3 L427.1 165.4 L428.1 165.0 L429.1 164.4 L430.1 163.9 L431.1 164.3 L432.1 164.8 L433.0 163.8 L434.0 163.2 L435.0 164.1 L436.0 164.0 L437.0 163.5 L438.0 163.7 L438.9 163.3 L439.9 162.9 L440.9 162.9 L441.9 162.2 L442.9 162.0 L443.9 162.3 L444.8 161.6 L445.8 160.9 L446.8 160.9 L447.8 160.7 L448.8 160.5 L449.8 160.4 L450.7 160.0 L451.7 160.2 L452.7 160.6 L453.7 159.8 L454.7 159.2 L455.7 159.3 L456.6 159.6 L457.6 159.0 L458.6 158.3 L459.6 158.3 L460.6 157.9 L461.6 157.8 L462.5 158.2 L463.5 158.2 L464.5 158.1 L465.5 157.7 L466.5 158.0 L467.5 158.2 L468.4 157.9 L469.4 157.6 L470.4 157.2 L471.4 157.3 L472.4 157.9 L473.4 157.6 L474.3 156.7 L475.3 156.3 L476.3 155.7 L477.3 154.6 L478.3 155.0 L479.3 155.6 L480.2 155.2 L481.2 154.8 L482.2 155.6 L483.2 156.4 L484.2 155.7 L485.2 154.7 L486.1 154.3 L487.1 155.1 L488.1 154.4 L489.1 154.2 L490.1 154.1 L491.1 154.3 L492.0 153.9 L493.0 153.4 L494.0 153.4 L495.0 153.2 L496.0 153.6 L497.0 153.9 L497.9 153.8 L498.9 153.7 L499.9 153.0 L500.9 152.6 L501.9 153.6 L502.9 153.9 L503.8 152.6 L504.8 151.3 L505.8 151.0 L506.8 150.9 L507.8 151.2 L508.8 152.0 L509.7 152.6 L510.7 153.3 L511.7 152.5 L512.7 151.8 L513.7 152.6 L514.7 153.1 L515.6 152.3 L516.6 150.8 L517.6 149.4 L518.6 148.5 L519.6 149.5 L520.6 151.4 L521.5 151.9 L522.5 150.5 L523.5 149.9 L524.5 150.7 L525.5 150.6 L526.5 150.1 L527.4 149.6 L528.4 149.3 L529.4 148.7 L530.4 148.4 L531.4 148.4 L532.4 147.9 L533.3 147.7 L534.3 148.9 L535.3 149.1 L536.3 147.9 L537.3 147.0 L538.3 147.3 L539.2 147.4 L540.2 147.6 L541.2 147.5 L542.2 147.6 L543.2 147.2 L544.2 146.9 L545.1 146.6 L546.1 146.0 L547.1 146.2 L548.1 146.8 L549.1 146.9 L550.1 147.1 L551.0 145.7 L552.0 144.5 L553.0 145.2" stroke="#F8BA00" class="curve"/>
<text x="317.1" y="495.2" class="title" text-anchor="middle" textLength="93" lengthAdjust="spacing">time (min)</text>
<text transform="translate(20.2,255.1) rotate(-90)" class="title" text-anchor="middle" textLength="200.5" lengthAdjust="spacing">Fluorescence inteisity</text>
<line x1="614.7" y1="236.5" x2="649.2" y2="236.5" stroke="#000000" class="leg"/>
<text x="652.8" y="242.3" class="legt" textLength="115" lengthAdjust="spacing">DNARNA only</text>
<line x1="614.7" y1="271.8" x2="649.2" y2="271.8" stroke="#0A6DBA" class="leg"/>
<text x="652.8" y="277.6" class="legt" textLength="158" lengthAdjust="spacing">+ ODAGal3 3 equiv</text>
<line x1="614.7" y1="307.2" x2="649.2" y2="307.2" stroke="#EC0E16" class="leg"/>
<text x="652.8" y="313.0" class="legt" textLength="158" lengthAdjust="spacing">+ ODAGal4 3 equiv</text>
<line x1="614.7" y1="342.5" x2="649.2" y2="342.5" stroke="#F8BA00" class="leg"/>
<text x="652.8" y="348.3" class="legt" textLength="158" lengthAdjust="spacing">+ ODGGal3 3 equiv</text>
<line x1="916.0" y1="83.40" x2="1402.0" y2="83.40" class="grid"/>
<line x1="916.0" y1="142.33" x2="1402.0" y2="142.33" class="grid"/>
<line x1="916.0" y1="201.27" x2="1402.0" y2="201.27" class="grid"/>
<line x1="916.0" y1="260.20" x2="1402.0" y2="260.20" class="grid"/>
<line x1="916.0" y1="319.13" x2="1402.0" y2="319.13" class="grid"/>
<line x1="916.0" y1="378.07" x2="1402.0" y2="378.07" class="grid"/>
<path d="M916.0 82.40 L916.0 437.00 L1402.0 437.00" class="axis"/>
<text x="897.4" y="89.0" class="tick" text-anchor="end">700</text>
<text x="897.4" y="147.9" class="tick" text-anchor="end">600</text>
<text x="897.4" y="206.9" class="tick" text-anchor="end">500</text>
<text x="897.4" y="265.8" class="tick" text-anchor="end">400</text>
<text x="897.4" y="324.7" class="tick" text-anchor="end">300</text>
<text x="897.4" y="383.7" class="tick" text-anchor="end">200</text>
<text x="897.4" y="442.6" class="tick" text-anchor="end">100</text>
<text x="916.3" y="470.6" class="tick" text-anchor="middle">0</text>
<text x="997.3" y="470.6" class="tick" text-anchor="middle">10</text>
<text x="1078.3" y="470.6" class="tick" text-anchor="middle">20</text>
<text x="1159.3" y="470.6" class="tick" text-anchor="middle">30</text>
<text x="1240.3" y="470.6" class="tick" text-anchor="middle">40</text>
<text x="1321.3" y="470.6" class="tick" text-anchor="middle">50</text>
<text x="1402.3" y="470.6" class="tick" text-anchor="middle">60</text>
<path d="M916.8 359.0 L917.8 352.8 L918.8 346.9 L919.8 341.1 L920.9 335.4 L921.9 330.2 L922.9 325.0 L923.9 319.2 L924.9 313.5 L925.9 308.3 L926.9 303.4 L928.0 298.3 L929.0 293.3 L930.0 288.5 L931.0 283.8 L932.0 279.1 L933.0 274.5 L934.0 269.9 L935.0 265.7 L936.1 261.5 L937.1 257.4 L938.1 253.3 L939.1 249.0 L940.1 244.8 L941.1 240.9 L942.1 237.5 L943.1 234.1 L944.2 230.7 L945.2 227.5 L946.2 224.0 L947.2 220.5 L948.2 217.5 L949.2 214.9 L950.2 211.9 L951.2 208.5 L952.3 206.1 L953.3 203.9 L954.3 201.1 L955.3 198.0 L956.3 195.2 L957.3 192.8 L958.3 190.4 L959.4 188.2 L960.4 186.1 L961.4 184.0 L962.4 182.2 L963.4 180.3 L964.4 178.6 L965.4 176.7 L966.4 174.8 L967.5 173.2 L968.5 171.6 L969.5 170.1 L970.5 168.4 L971.5 166.7 L972.5 164.9 L973.5 163.6 L974.5 162.2 L975.6 161.0 L976.6 160.9 L977.6 160.0 L978.6 158.8 L979.6 156.7 L980.6 154.9 L981.6 153.7 L982.6 152.9 L983.7 152.0 L984.7 150.4 L985.7 149.7 L986.7 149.4 L987.7 148.7 L988.7 147.5 L989.7 146.8 L990.8 145.9 L991.8 144.9 L992.8 144.2 L993.8 143.5 L994.8 142.5 L995.8 142.4 L996.8 141.9 L997.8 140.7 L998.9 139.9 L999.9 139.4 L1000.9 138.9 L1001.9 138.4 L1002.9 138.2 L1003.9 137.8 L1004.9 136.7 L1005.9 136.3 L1007.0 135.6 L1008.0 134.6 L1009.0 133.7 L1010.0 132.9 L1011.0 133.8 L1012.0 133.7 L1013.0 132.5 L1014.1 131.6 L1015.1 131.9 L1016.1 131.9 L1017.1 131.0 L1018.1 130.9 L1019.1 130.4 L1020.1 129.7 L1021.1 129.8 L1022.2 129.5 L1023.2 128.8 L1024.2 128.5 L1025.2 128.4 L1026.2 128.5 L1027.2 128.3 L1028.2 128.4 L1029.2 127.8 L1030.3 126.1 L1031.3 125.6 L1032.3 125.8 L1033.3 126.4 L1034.3 126.1 L1035.3 126.1 L1036.3 126.1 L1037.3 125.4 L1038.4 125.3 L1039.4 125.4 L1040.4 125.1 L1041.4 123.8 L1042.4 123.2 L1043.4 123.6 L1044.4 124.2 L1045.5 123.7 L1046.5 122.8 L1047.5 122.9 L1048.5 122.8 L1049.5 122.9 L1050.5 122.9 L1051.5 122.4 L1052.5 123.1 L1053.6 122.6 L1054.6 122.5 L1055.6 122.8 L1056.6 121.8 L1057.6 121.2 L1058.6 121.5 L1059.6 121.6 L1060.6 120.8 L1061.7 120.2 L1062.7 120.0 L1063.7 119.4 L1064.7 119.4 L1065.7 119.4 L1066.7 119.6 L1067.7 120.5 L1068.7 120.6 L1069.8 119.8 L1070.8 119.2 L1071.8 118.5 L1072.8 118.7 L1073.8 119.3 L1074.8 119.6 L1075.8 119.8 L1076.9 119.9 L1077.9 119.6 L1078.9 119.1 L1079.9 119.4 L1080.9 119.5 L1081.9 119.3 L1082.9 119.4 L1083.9 119.8 L1085.0 120.2 L1086.0 119.3 L1087.0 118.8 L1088.0 118.6 L1089.0 118.8 L1090.0 118.9 L1091.0 117.4 L1092.0 117.7 L1093.1 118.6 L1094.1 119.1 L1095.1 118.2 L1096.1 117.8 L1097.1 118.0 L1098.1 117.6 L1099.1 117.2 L1100.1 117.9 L1101.2 118.0 L1102.2 117.1 L1103.2 117.2 L1104.2 117.0 L1105.2 116.2 L1106.2 116.8 L1107.2 117.4 L1108.3 117.4 L1109.3 117.5 L1110.3 117.3 L1111.3 117.4 L1112.3 117.7 L1113.3 117.5 L1114.3 117.0 L1115.3 116.7 L1116.4 116.4 L1117.4 116.4 L1118.4 116.5 L1119.4 116.7 L1120.4 117.1 L1121.4 117.0 L1122.4 116.9 L1123.4 117.6 L1124.5 116.3 L1125.5 115.3 L1126.5 116.7 L1127.5 116.8 L1128.5 117.3 L1129.5 116.5 L1130.5 115.3 L1131.5 115.6 L1132.6 117.2 L1133.6 118.1 L1134.6 117.7 L1135.6 116.7 L1136.6 116.7 L1137.6 116.6 L1138.6 116.3 L1139.7 116.1 L1140.7 116.1 L1141.7 116.7 L1142.7 117.1 L1143.7 116.7 L1144.7 117.4 L1145.7 116.6 L1146.7 116.6 L1147.8 116.8 L1148.8 116.8 L1149.8 116.7 L1150.8 116.5 L1151.8 116.8 L1152.8 116.8 L1153.8 116.2 L1154.8 116.0 L1155.9 115.6 L1156.9 116.1 L1157.9 116.5 L1158.9 115.9 L1159.9 115.7 L1160.9 116.5 L1161.9 116.1 L1163.0 115.6 L1164.0 116.5 L1165.0 116.8 L1166.0 116.6 L1167.0 117.5 L1168.0 118.3 L1169.0 117.6 L1170.0 116.1 L1171.1 115.3 L1172.1 115.3 L1173.1 115.8 L1174.1 116.3 L1175.1 115.5 L1176.1 115.2 L1177.1 115.7 L1178.1 115.5 L1179.2 115.7 L1180.2 115.7 L1181.2 115.9 L1182.2 116.2 L1183.2 115.5 L1184.2 115.9 L1185.2 116.1 L1186.2 115.9 L1187.3 115.4 L1188.3 115.3 L1189.3 115.1 L1190.3 114.7 L1191.3 115.3 L1192.3 116.6 L1193.3 117.6 L1194.4 116.7 L1195.4 116.2 L1196.4 116.4 L1197.4 116.2 L1198.4 115.1 L1199.4 114.2 L1200.4 113.7 L1201.4 114.4 L1202.5 115.5 L1203.5 115.9 L1204.5 116.1 L1205.5 115.3 L1206.5 115.2 L1207.5 115.7 L1208.5 115.7 L1209.5 115.8 L1210.6 115.4 L1211.6 113.9 L1212.6 112.9 L1213.6 113.7 L1214.6 114.4 L1215.6 115.0 L1216.6 114.9 L1217.6 114.2 L1218.7 114.8 L1219.7 115.1 L1220.7 115.1 L1221.7 114.9 L1222.7 115.0 L1223.7 115.3 L1224.7 115.9 L1225.8 115.3 L1226.8 114.8 L1227.8 115.6 L1228.8 115.5 L1229.8 114.4 L1230.8 114.3 L1231.8 115.0 L1232.8 116.2 L1233.9 116.1 L1234.9 116.4 L1235.9 116.2 L1236.9 115.0 L1237.9 114.8 L1238.9 116.0 L1239.9 116.4 L1240.9 115.9 L1242.0 115.7 L1243.0 115.3 L1244.0 113.9 L1245.0 114.2 L1246.0 115.1 L1247.0 114.7 L1248.0 113.1 L1249.0 113.1 L1250.1 114.5 L1251.1 114.6 L1252.1 114.5 L1253.1 115.5 L1254.1 115.3 L1255.1 114.6 L1256.1 115.2 L1257.2 115.8 L1258.2 116.1 L1259.2 115.7 L1260.2 115.1 L1261.2 115.7 L1262.2 116.1 L1263.2 115.2 L1264.2 114.0 L1265.3 114.5 L1266.3 115.1 L1267.3 114.8 L1268.3 114.6 L1269.3 115.2 L1270.3 115.9 L1271.3 115.2 L1272.3 114.8 L1273.4 114.8 L1274.4 115.2 L1275.4 114.8 L1276.4 115.3 L1277.4 115.7 L1278.4 114.6 L1279.4 114.7 L1280.4 114.7 L1281.5 114.5 L1282.5 113.8 L1283.5 113.5 L1284.5 113.6 L1285.5 114.5 L1286.5 116.0 L1287.5 116.2 L1288.6 115.4 L1289.6 115.2 L1290.6 114.7 L1291.6 115.0 L1292.6 115.9 L1293.6 116.1 L1294.6 116.0 L1295.6 115.7 L1296.7 114.9 L1297.7 114.0 L1298.7 114.0 L1299.7 115.0 L1300.7 114.8 L1301.7 113.7 L1302.7 113.7 L1303.7 114.9 L1304.8 116.3 L1305.8 115.9 L1306.8 115.0 L1307.8 114.4 L1308.8 113.5 L1309.8 114.0 L1310.8 114.7 L1311.8 115.5 L1312.9 115.8 L1313.9 115.5 L1314.9 115.3 L1315.9 114.8 L1316.9 114.4 L1317.9 114.1 L1318.9 114.3 L1320.0 115.1 L1321.0 114.7 L1322.0 113.9 L1323.0 113.6 L1324.0 114.2 L1325.0 114.6 L1326.0 114.8 L1327.0 114.4 L1328.1 114.4 L1329.1 114.9 L1330.1 115.0 L1331.1 114.5 L1332.1 114.5 L1333.1 114.8 L1334.1 114.3 L1335.1 113.9 L1336.2 113.0 L1337.2 113.2 L1338.2 114.4 L1339.2 114.2 L1340.2 112.9 L1341.2 113.2 L1342.2 114.0 L1343.3 114.5 L1344.3 114.4 L1345.3 113.8 L1346.3 114.0 L1347.3 114.4 L1348.3 113.8 L1349.3 114.1 L1350.3 114.6 L1351.4 114.1 L1352.4 114.0 L1353.4 114.1 L1354.4 114.5 L1355.4 114.7 L1356.4 115.2 L1357.4 115.0 L1358.4 115.3 L1359.5 115.4 L1360.5 115.9 L1361.5 114.9 L1362.5 113.8 L1363.5 113.5 L1364.5 113.7 L1365.5 114.2 L1366.5 113.2 L1367.6 113.3 L1368.6 114.8 L1369.6 115.3 L1370.6 114.9 L1371.6 114.5 L1372.6 114.9 L1373.6 115.6 L1374.7 114.7 L1375.7 114.6 L1376.7 114.7 L1377.7 114.0 L1378.7 113.9 L1379.7 113.5 L1380.7 113.7 L1381.7 113.9 L1382.8 113.4 L1383.8 113.6 L1384.8 114.8 L1385.8 115.5 L1386.8 114.9 L1387.8 114.1 L1388.8 113.7 L1389.8 113.1 L1390.9 113.5 L1391.9 113.9 L1392.9 114.1 L1393.9 114.7 L1394.9 114.8 L1395.9 115.4 L1396.9 116.3 L1397.9 115.8 L1399.0 114.4 L1400.0 114.4 L1401.0 114.8 L1402.0 115.3" stroke="#000000" class="curve"/>
<path d="M916.8 386.8 L917.8 381.6 L918.8 376.7 L919.8 372.2 L920.9 367.7 L921.9 363.4 L922.9 359.4 L923.9 355.8 L924.9 352.3 L925.9 349.2 L926.9 345.9 L928.0 342.6 L929.0 339.4 L930.0 336.6 L931.0 333.8 L932.0 330.8 L933.0 328.4 L934.0 325.8 L935.0 323.2 L936.1 321.1 L937.1 319.0 L938.1 316.9 L939.1 314.7 L940.1 312.4 L941.1 309.8 L942.1 307.5 L943.1 305.4 L944.2 303.1 L945.2 301.1 L946.2 299.5 L947.2 297.8 L948.2 296.0 L949.2 294.0 L950.2 291.9 L951.2 290.3 L952.3 288.8 L953.3 287.0 L954.3 285.2 L955.3 283.6 L956.3 281.9 L957.3 280.1 L958.3 278.2 L959.4 276.8 L960.4 275.8 L961.4 274.1 L962.4 272.3 L963.4 270.8 L964.4 269.1 L965.4 267.6 L966.4 266.2 L967.5 264.9 L968.5 263.4 L969.5 262.1 L970.5 261.3 L971.5 260.0 L972.5 258.2 L973.5 256.1 L974.5 254.8 L975.6 253.6 L976.6 252.5 L977.6 251.5 L978.6 250.2 L979.6 248.5 L980.6 247.1 L981.6 245.6 L982.6 244.6 L983.7 243.6 L984.7 242.6 L985.7 241.3 L986.7 239.8 L987.7 237.9 L988.7 236.8 L989.7 236.6 L990.8 235.5 L991.8 234.3 L992.8 233.7 L993.8 232.8 L994.8 231.9 L995.8 231.1 L996.8 229.2 L997.8 227.9 L998.9 227.0 L999.9 225.8 L1000.9 224.3 L1001.9 222.8 L1002.9 222.3 L1003.9 221.7 L1004.9 221.1 L1005.9 220.1 L1007.0 219.3 L1008.0 218.6 L1009.0 218.0 L1010.0 217.0 L1011.0 215.4 L1012.0 214.2 L1013.0 213.6 L1014.1 213.2 L1015.1 212.7 L1016.1 212.3 L1017.1 210.6 L1018.1 209.5 L1019.1 208.5 L1020.1 207.6 L1021.1 207.1 L1022.2 206.3 L1023.2 205.7 L1024.2 205.0 L1025.2 204.4 L1026.2 203.2 L1027.2 202.3 L1028.2 202.4 L1029.2 202.0 L1030.3 201.0 L1031.3 199.4 L1032.3 198.1 L1033.3 199.0 L1034.3 199.6 L1035.3 198.8 L1036.3 198.1 L1037.3 197.0 L1038.4 196.0 L1039.4 195.8 L1040.4 195.5 L1041.4 195.0 L1042.4 193.7 L1043.4 192.7 L1044.4 191.3 L1045.5 190.8 L1046.5 191.1 L1047.5 190.7 L1048.5 189.6 L1049.5 189.2 L1050.5 189.3 L1051.5 188.1 L1052.5 186.6 L1053.6 186.5 L1054.6 186.4 L1055.6 186.2 L1056.6 185.9 L1057.6 184.7 L1058.6 184.0 L1059.6 183.6 L1060.6 182.9 L1061.7 182.9 L1062.7 183.3 L1063.7 182.4 L1064.7 181.8 L1065.7 181.4 L1066.7 181.2 L1067.7 180.6 L1068.7 179.5 L1069.8 179.2 L1070.8 179.1 L1071.8 178.7 L1072.8 178.1 L1073.8 178.2 L1074.8 178.7 L1075.8 177.9 L1076.9 176.5 L1077.9 175.2 L1078.9 174.7 L1079.9 174.7 L1080.9 173.7 L1081.9 173.6 L1082.9 173.7 L1083.9 173.8 L1085.0 173.2 L1086.0 172.1 L1087.0 172.1 L1088.0 171.7 L1089.0 170.5 L1090.0 170.3 L1091.0 171.2 L1092.0 170.9 L1093.1 169.6 L1094.1 168.0 L1095.1 167.5 L1096.1 168.2 L1097.1 168.1 L1098.1 167.4 L1099.1 167.1 L1100.1 167.3 L1101.2 167.1 L1102.2 167.8 L1103.2 168.6 L1104.2 167.7 L1105.2 166.1 L1106.2 165.8 L1107.2 166.8 L1108.3 166.6 L1109.3 166.0 L1110.3 166.1 L1111.3 164.3 L1112.3 163.8 L1113.3 164.6 L1114.3 163.4 L1115.3 162.3 L1116.4 161.6 L1117.4 161.6 L1118.4 161.8 L1119.4 161.3 L1120.4 160.6 L1121.4 160.6 L1122.4 160.9 L1123.4 161.0 L1124.5 160.1 L1125.5 159.2 L1126.5 158.4 L1127.5 158.8 L1128.5 159.1 L1129.5 158.8 L1130.5 158.2 L1131.5 158.2 L1132.6 157.8 L1133.6 156.4 L1134.6 156.0 L1135.6 157.0 L1136.6 157.1 L1137.6 156.3 L1138.6 155.7 L1139.7 154.5 L1140.7 154.8 L1141.7 155.2 L1142.7 155.7 L1143.7 155.0 L1144.7 154.0 L1145.7 154.0 L1146.7 153.7 L1147.8 152.5 L1148.8 152.7 L1149.8 153.5 L1150.8 153.6 L1151.8 153.0 L1152.8 152.3 L1153.8 152.6 L1154.8 152.6 L1155.9 152.2 L1156.9 151.3 L1157.9 151.1 L1158.9 150.7 L1159.9 150.7 L1160.9 150.9 L1161.9 150.2 L1163.0 150.0 L1164.0 150.4 L1165.0 149.0 L1166.0 147.7 L1167.0 148.7 L1168.0 149.3 L1169.0 149.7 L1170.0 149.2 L1171.1 148.8 L1172.1 148.3 L1173.1 148.5 L1174.1 148.5 L1175.1 147.7 L1176.1 147.8 L1177.1 148.1 L1178.1 147.8 L1179.2 147.6 L1180.2 147.0 L1181.2 146.8 L1182.2 146.6 L1183.2 146.4 L1184.2 146.5 L1185.2 146.2 L1186.2 146.3 L1187.3 145.1 L1188.3 145.0 L1189.3 145.4 L1190.3 145.4 L1191.3 144.8 L1192.3 144.6 L1193.3 144.3 L1194.4 143.9 L1195.4 144.1 L1196.4 144.0 L1197.4 143.3 L1198.4 142.9 L1199.4 143.2 L1200.4 143.1 L1201.4 142.8 L1202.5 142.1 L1203.5 141.9 L1204.5 142.7 L1205.5 142.7 L1206.5 142.1 L1207.5 141.4 L1208.5 140.9 L1209.5 141.3 L1210.6 141.2 L1211.6 141.1 L1212.6 141.9 L1213.6 142.0 L1214.6 141.4 L1215.6 140.9 L1216.6 140.6 L1217.6 140.3 L1218.7 139.6 L1219.7 140.2 L1220.7 140.0 L1221.7 139.1 L1222.7 139.0 L1223.7 139.2 L1224.7 139.0 L1225.8 138.7 L1226.8 138.8 L1227.8 138.9 L1228.8 139.2 L1229.8 139.4 L1230.8 139.8 L1231.8 139.7 L1232.8 138.9 L1233.9 137.9 L1234.9 137.9 L1235.9 138.1 L1236.9 138.3 L1237.9 138.1 L1238.9 137.9 L1239.9 137.8 L1240.9 137.4 L1242.0 137.6 L1243.0 136.3 L1244.0 135.4 L1245.0 136.5 L1246.0 137.1 L1247.0 137.4 L1248.0 137.2 L1249.0 137.1 L1250.1 136.4 L1251.1 136.7 L1252.1 137.4 L1253.1 137.4 L1254.1 137.0 L1255.1 135.9 L1256.1 135.2 L1257.2 135.6 L1258.2 136.2 L1259.2 135.9 L1260.2 135.8 L1261.2 136.1 L1262.2 135.0 L1263.2 134.9 L1264.2 135.5 L1265.3 134.8 L1266.3 135.0 L1267.3 134.4 L1268.3 134.0 L1269.3 135.1 L1270.3 135.7 L1271.3 135.2 L1272.3 134.7 L1273.4 134.1 L1274.4 134.0 L1275.4 133.9 L1276.4 133.7 L1277.4 133.6 L1278.4 133.5 L1279.4 133.0 L1280.4 133.0 L1281.5 132.9 L1282.5 132.2 L1283.5 132.6 L1284.5 132.5 L1285.5 132.5 L1286.5 132.0 L1287.5 131.5 L1288.6 131.0 L1289.6 131.0 L1290.6 131.2 L1291.6 130.2 L1292.6 130.9 L1293.6 132.1 L1294.6 131.8 L1295.6 129.9 L1296.7 129.7 L1297.7 130.4 L1298.7 130.2 L1299.7 130.0 L1300.7 130.6 L1301.7 131.0 L1302.7 130.6 L1303.7 130.2 L1304.8 130.6 L1305.8 131.0 L1306.8 130.7 L1307.8 131.3 L1308.8 130.7 L1309.8 129.6 L1310.8 129.5 L1311.8 129.7 L1312.9 129.5 L1313.9 129.2 L1314.9 130.0 L1315.9 130.8 L1316.9 130.8 L1317.9 131.7 L1318.9 130.9 L1320.0 128.7 L1321.0 128.4 L1322.0 129.1 L1323.0 129.2 L1324.0 128.7 L1325.0 128.6 L1326.0 129.3 L1327.0 129.6 L1328.1 129.3 L1329.1 128.7 L1330.1 128.5 L1331.1 128.5 L1332.1 128.3 L1333.1 128.8 L1334.1 128.8 L1335.1 128.9 L1336.2 128.6 L1337.2 127.7 L1338.2 128.1 L1339.2 128.6 L1340.2 128.4 L1341.2 128.2 L1342.2 127.4 L1343.3 126.8 L1344.3 127.0 L1345.3 127.8 L1346.3 127.3 L1347.3 126.4 L1348.3 126.6 L1349.3 126.2 L1350.3 126.3 L1351.4 127.1 L1352.4 126.5 L1353.4 126.0 L1354.4 125.7 L1355.4 125.5 L1356.4 126.0 L1357.4 126.4 L1358.4 126.4 L1359.5 126.6 L1360.5 126.8 L1361.5 127.1 L1362.5 126.1 L1363.5 126.1 L1364.5 126.0 L1365.5 125.9 L1366.5 126.0 L1367.6 126.1 L1368.6 126.5 L1369.6 127.1 L1370.6 126.5 L1371.6 125.7 L1372.6 126.4 L1373.6 126.1 L1374.7 124.5 L1375.7 124.1 L1376.7 124.4 L1377.7 125.1 L1378.7 125.1 L1379.7 124.8 L1380.7 125.0 L1381.7 125.7 L1382.8 126.4 L1383.8 126.5 L1384.8 126.0 L1385.8 124.8 L1386.8 125.1 L1387.8 125.2 L1388.8 124.9 L1389.8 124.8 L1390.9 124.9 L1391.9 125.5 L1392.9 125.5 L1393.9 124.4 L1394.9 124.9 L1395.9 125.4 L1396.9 125.4 L1397.9 125.2 L1399.0 124.6 L1400.0 124.4 L1401.0 124.9 L1402.0 124.7" stroke="#0A6DBA" class="curve"/>
<path d="M916.8 393.0 L917.8 388.3 L918.8 384.5 L919.8 381.7 L920.9 379.5 L921.9 377.4 L922.9 375.5 L923.9 374.0 L924.9 372.2 L925.9 370.2 L926.9 368.1 L928.0 366.3 L929.0 364.2 L930.0 362.2 L931.0 360.6 L932.0 358.8 L933.0 356.8 L934.0 354.9 L935.0 353.4 L936.1 351.4 L937.1 349.5 L938.1 347.9 L939.1 346.1 L940.1 344.3 L941.1 342.9 L942.1 341.4 L943.1 339.8 L944.2 338.1 L945.2 336.6 L946.2 335.0 L947.2 333.4 L948.2 331.9 L949.2 330.7 L950.2 329.2 L951.2 327.5 L952.3 325.9 L953.3 324.4 L954.3 323.0 L955.3 321.4 L956.3 319.9 L957.3 318.9 L958.3 318.3 L959.4 317.1 L960.4 315.3 L961.4 314.0 L962.4 312.7 L963.4 311.2 L964.4 309.6 L965.4 308.5 L966.4 307.8 L967.5 306.6 L968.5 305.5 L969.5 304.4 L970.5 302.9 L971.5 301.6 L972.5 300.0 L973.5 298.3 L974.5 297.3 L975.6 296.6 L976.6 296.2 L977.6 295.2 L978.6 293.7 L979.6 292.7 L980.6 291.8 L981.6 290.8 L982.6 289.3 L983.7 287.8 L984.7 287.4 L985.7 286.7 L986.7 285.6 L987.7 284.7 L988.7 284.4 L989.7 283.7 L990.8 282.4 L991.8 281.2 L992.8 280.4 L993.8 279.7 L994.8 278.7 L995.8 277.5 L996.8 276.7 L997.8 276.1 L998.9 274.9 L999.9 273.6 L1000.9 272.9 L1001.9 272.5 L1002.9 271.4 L1003.9 270.1 L1004.9 269.3 L1005.9 268.9 L1007.0 267.7 L1008.0 266.9 L1009.0 265.9 L1010.0 265.1 L1011.0 264.9 L1012.0 264.2 L1013.0 263.0 L1014.1 261.9 L1015.1 261.8 L1016.1 261.5 L1017.1 260.4 L1018.1 258.8 L1019.1 257.8 L1020.1 257.7 L1021.1 257.2 L1022.2 256.4 L1023.2 255.8 L1024.2 255.4 L1025.2 254.5 L1026.2 253.4 L1027.2 252.6 L1028.2 252.3 L1029.2 252.1 L1030.3 251.4 L1031.3 250.3 L1032.3 248.6 L1033.3 247.6 L1034.3 247.1 L1035.3 246.5 L1036.3 246.7 L1037.3 246.7 L1038.4 246.3 L1039.4 245.3 L1040.4 244.5 L1041.4 243.7 L1042.4 242.9 L1043.4 242.8 L1044.4 242.6 L1045.5 241.7 L1046.5 240.8 L1047.5 240.0 L1048.5 239.3 L1049.5 239.0 L1050.5 238.2 L1051.5 236.7 L1052.5 236.3 L1053.6 236.8 L1054.6 236.9 L1055.6 236.1 L1056.6 234.8 L1057.6 233.4 L1058.6 232.5 L1059.6 233.0 L1060.6 233.0 L1061.7 232.6 L1062.7 232.1 L1063.7 231.9 L1064.7 231.4 L1065.7 230.1 L1066.7 229.3 L1067.7 228.8 L1068.7 228.8 L1069.8 228.3 L1070.8 228.0 L1071.8 228.7 L1072.8 228.0 L1073.8 226.5 L1074.8 226.3 L1075.8 226.8 L1076.9 226.3 L1077.9 225.5 L1078.9 224.3 L1079.9 223.1 L1080.9 222.7 L1081.9 221.8 L1082.9 222.1 L1083.9 221.9 L1085.0 220.5 L1086.0 219.7 L1087.0 219.0 L1088.0 218.4 L1089.0 218.3 L1090.0 218.7 L1091.0 219.7 L1092.0 219.2 L1093.1 217.9 L1094.1 217.2 L1095.1 216.8 L1096.1 216.5 L1097.1 215.3 L1098.1 214.3 L1099.1 214.4 L1100.1 214.3 L1101.2 213.9 L1102.2 213.6 L1103.2 213.7 L1104.2 213.7 L1105.2 213.1 L1106.2 213.0 L1107.2 213.1 L1108.3 212.2 L1109.3 211.5 L1110.3 211.2 L1111.3 210.9 L1112.3 210.2 L1113.3 209.8 L1114.3 209.8 L1115.3 209.1 L1116.4 208.3 L1117.4 208.3 L1118.4 208.8 L1119.4 208.7 L1120.4 208.0 L1121.4 207.2 L1122.4 205.9 L1123.4 206.5 L1124.5 206.6 L1125.5 205.9 L1126.5 206.2 L1127.5 206.6 L1128.5 205.8 L1129.5 205.3 L1130.5 205.1 L1131.5 205.1 L1132.6 204.4 L1133.6 203.6 L1134.6 203.2 L1135.6 203.3 L1136.6 203.1 L1137.6 202.5 L1138.6 201.8 L1139.7 201.6 L1140.7 201.5 L1141.7 200.7 L1142.7 200.4 L1143.7 200.1 L1144.7 200.0 L1145.7 199.4 L1146.7 199.0 L1147.8 198.6 L1148.8 198.0 L1149.8 197.7 L1150.8 197.6 L1151.8 197.7 L1152.8 197.9 L1153.8 197.9 L1154.8 198.5 L1155.9 198.2 L1156.9 196.8 L1157.9 195.6 L1158.9 194.5 L1159.9 194.1 L1160.9 194.1 L1161.9 194.3 L1163.0 193.8 L1164.0 193.1 L1165.0 193.0 L1166.0 193.0 L1167.0 193.2 L1168.0 193.6 L1169.0 193.7 L1170.0 193.2 L1171.1 192.3 L1172.1 192.0 L1173.1 191.8 L1174.1 191.3 L1175.1 190.8 L1176.1 189.7 L1177.1 188.9 L1178.1 189.5 L1179.2 190.4 L1180.2 190.0 L1181.2 188.5 L1182.2 188.6 L1183.2 189.0 L1184.2 188.6 L1185.2 189.1 L1186.2 188.7 L1187.3 188.1 L1188.3 188.0 L1189.3 187.4 L1190.3 186.0 L1191.3 186.3 L1192.3 186.3 L1193.3 186.5 L1194.4 187.0 L1195.4 186.4 L1196.4 185.3 L1197.4 184.7 L1198.4 184.8 L1199.4 184.7 L1200.4 184.5 L1201.4 184.6 L1202.5 185.1 L1203.5 184.2 L1204.5 184.0 L1205.5 184.5 L1206.5 185.1 L1207.5 184.0 L1208.5 182.0 L1209.5 181.1 L1210.6 182.1 L1211.6 182.2 L1212.6 181.5 L1213.6 181.3 L1214.6 181.5 L1215.6 181.3 L1216.6 180.8 L1217.6 180.0 L1218.7 179.2 L1219.7 178.6 L1220.7 178.7 L1221.7 178.9 L1222.7 178.9 L1223.7 178.8 L1224.7 178.7 L1225.8 177.6 L1226.8 177.5 L1227.8 177.5 L1228.8 177.9 L1229.8 177.3 L1230.8 177.2 L1231.8 177.6 L1232.8 177.8 L1233.9 177.2 L1234.9 175.7 L1235.9 175.4 L1236.9 175.9 L1237.9 176.2 L1238.9 176.8 L1239.9 177.4 L1240.9 177.2 L1242.0 176.3 L1243.0 175.7 L1244.0 175.4 L1245.0 174.4 L1246.0 174.1 L1247.0 174.5 L1248.0 175.1 L1249.0 174.5 L1250.1 174.2 L1251.1 174.8 L1252.1 174.4 L1253.1 172.5 L1254.1 172.2 L1255.1 172.3 L1256.1 171.4 L1257.2 171.2 L1258.2 171.5 L1259.2 171.4 L1260.2 170.9 L1261.2 170.5 L1262.2 171.0 L1263.2 171.2 L1264.2 171.5 L1265.3 172.3 L1266.3 171.4 L1267.3 170.7 L1268.3 170.4 L1269.3 170.1 L1270.3 169.7 L1271.3 169.5 L1272.3 169.5 L1273.4 169.3 L1274.4 169.0 L1275.4 168.9 L1276.4 168.8 L1277.4 169.2 L1278.4 168.6 L1279.4 168.3 L1280.4 168.7 L1281.5 168.1 L1282.5 167.2 L1283.5 167.6 L1284.5 168.6 L1285.5 169.0 L1286.5 167.6 L1287.5 166.5 L1288.6 165.7 L1289.6 165.2 L1290.6 165.7 L1291.6 166.2 L1292.6 166.3 L1293.6 166.0 L1294.6 165.5 L1295.6 164.9 L1296.7 165.0 L1297.7 165.5 L1298.7 165.1 L1299.7 164.4 L1300.7 164.6 L1301.7 163.8 L1302.7 163.0 L1303.7 163.2 L1304.8 163.2 L1305.8 162.8 L1306.8 163.1 L1307.8 163.4 L1308.8 163.1 L1309.8 162.3 L1310.8 161.9 L1311.8 161.8 L1312.9 162.5 L1313.9 162.8 L1314.9 162.6 L1315.9 162.3 L1316.9 162.1 L1317.9 161.5 L1318.9 161.6 L1320.0 162.8 L1321.0 163.8 L1322.0 162.7 L1323.0 160.8 L1324.0 160.6 L1325.0 160.8 L1326.0 160.8 L1327.0 160.9 L1328.1 161.9 L1329.1 162.2 L1330.1 161.5 L1331.1 160.1 L1332.1 159.2 L1333.1 159.2 L1334.1 159.7 L1335.1 159.8 L1336.2 159.1 L1337.2 159.0 L1338.2 158.9 L1339.2 158.9 L1340.2 159.0 L1341.2 159.1 L1342.2 159.1 L1343.3 159.0 L1344.3 158.2 L1345.3 157.7 L1346.3 157.6 L1347.3 158.0 L1348.3 157.2 L1349.3 157.1 L1350.3 157.4 L1351.4 157.7 L1352.4 157.9 L1353.4 157.6 L1354.4 156.5 L1355.4 156.2 L1356.4 155.7 L1357.4 155.6 L1358.4 156.1 L1359.5 156.2 L1360.5 155.7 L1361.5 155.1 L1362.5 155.1 L1363.5 155.0 L1364.5 154.7 L1365.5 154.4 L1366.5 154.0 L1367.6 154.4 L1368.6 153.8 L1369.6 153.7 L1370.6 154.4 L1371.6 154.0 L1372.6 153.6 L1373.6 153.7 L1374.7 154.3 L1375.7 154.2 L1376.7 154.2 L1377.7 153.6 L1378.7 152.8 L1379.7 153.6 L1380.7 154.8 L1381.7 154.6 L1382.8 153.7 L1383.8 152.7 L1384.8 153.1 L1385.8 153.2 L1386.8 152.1 L1387.8 151.8 L1388.8 152.0 L1389.8 152.0 L1390.9 151.3 L1391.9 152.0 L1392.9 153.0 L1393.9 152.9 L1394.9 152.2 L1395.9 151.4 L1396.9 151.0 L1397.9 151.3 L1399.0 150.8 L1400.0 149.7 L1401.0 150.2 L1402.0 150.8" stroke="#EC0E16" class="curve"/>
<path d="M916.8 392.7 L917.8 390.5 L918.8 388.3 L919.8 386.1 L920.9 383.8 L921.9 381.4 L922.9 379.3 L923.9 377.2 L924.9 375.0 L925.9 372.7 L926.9 370.7 L928.0 368.6 L929.0 366.7 L930.0 364.9 L931.0 363.2 L932.0 361.3 L933.0 359.7 L934.0 357.8 L935.0 356.2 L936.1 354.8 L937.1 352.8 L938.1 350.6 L939.1 348.7 L940.1 347.0 L941.1 345.9 L942.1 344.8 L943.1 342.9 L944.2 341.2 L945.2 339.7 L946.2 338.2 L947.2 336.8 L948.2 335.1 L949.2 333.2 L950.2 331.9 L951.2 330.8 L952.3 329.3 L953.3 327.6 L954.3 326.3 L955.3 325.2 L956.3 324.2 L957.3 323.0 L958.3 321.9 L959.4 320.6 L960.4 318.8 L961.4 317.6 L962.4 316.6 L963.4 315.3 L964.4 313.5 L965.4 311.9 L966.4 311.0 L967.5 310.3 L968.5 309.6 L969.5 308.3 L970.5 306.9 L971.5 305.6 L972.5 305.0 L973.5 304.3 L974.5 303.2 L975.6 301.9 L976.6 300.4 L977.6 299.5 L978.6 298.7 L979.6 297.8 L980.6 296.8 L981.6 296.4 L982.6 296.0 L983.7 295.0 L984.7 293.2 L985.7 292.0 L986.7 291.3 L987.7 290.4 L988.7 289.4 L989.7 289.0 L990.8 288.1 L991.8 287.7 L992.8 287.2 L993.8 286.4 L994.8 285.3 L995.8 284.3 L996.8 283.5 L997.8 283.1 L998.9 282.5 L999.9 280.9 L1000.9 279.6 L1001.9 279.1 L1002.9 278.8 L1003.9 278.4 L1004.9 278.3 L1005.9 277.1 L1007.0 275.7 L1008.0 275.2 L1009.0 274.9 L1010.0 273.9 L1011.0 273.3 L1012.0 272.8 L1013.0 272.8 L1014.1 272.0 L1015.1 270.8 L1016.1 270.0 L1017.1 269.3 L1018.1 269.0 L1019.1 268.4 L1020.1 267.5 L1021.1 267.1 L1022.2 267.4 L1023.2 266.7 L1024.2 265.7 L1025.2 264.7 L1026.2 264.2 L1027.2 264.2 L1028.2 263.8 L1029.2 263.8 L1030.3 263.2 L1031.3 262.3 L1032.3 261.6 L1033.3 261.2 L1034.3 260.7 L1035.3 260.1 L1036.3 259.9 L1037.3 260.1 L1038.4 259.5 L1039.4 258.1 L1040.4 256.6 L1041.4 255.2 L1042.4 254.2 L1043.4 255.0 L1044.4 255.5 L1045.5 254.6 L1046.5 253.8 L1047.5 253.8 L1048.5 253.9 L1049.5 253.3 L1050.5 252.9 L1051.5 253.1 L1052.5 252.3 L1053.6 251.3 L1054.6 251.6 L1055.6 250.7 L1056.6 249.6 L1057.6 248.5 L1058.6 248.4 L1059.6 248.5 L1060.6 247.7 L1061.7 247.2 L1062.7 245.8 L1063.7 245.4 L1064.7 245.8 L1065.7 245.6 L1066.7 245.6 L1067.7 245.4 L1068.7 244.4 L1069.8 243.7 L1070.8 243.2 L1071.8 242.5 L1072.8 242.0 L1073.8 242.0 L1074.8 242.3 L1075.8 242.0 L1076.9 241.6 L1077.9 241.4 L1078.9 240.7 L1079.9 239.5 L1080.9 239.1 L1081.9 238.9 L1082.9 239.6 L1083.9 239.5 L1085.0 239.3 L1086.0 238.9 L1087.0 238.5 L1088.0 238.0 L1089.0 237.3 L1090.0 236.1 L1091.0 236.1 L1092.0 236.8 L1093.1 236.4 L1094.1 235.4 L1095.1 235.1 L1096.1 235.1 L1097.1 234.7 L1098.1 235.1 L1099.1 234.3 L1100.1 233.6 L1101.2 234.5 L1102.2 233.6 L1103.2 232.4 L1104.2 232.5 L1105.2 232.8 L1106.2 233.1 L1107.2 233.2 L1108.3 232.5 L1109.3 231.3 L1110.3 230.9 L1111.3 230.4 L1112.3 230.0 L1113.3 229.9 L1114.3 230.2 L1115.3 229.7 L1116.4 229.1 L1117.4 228.9 L1118.4 229.2 L1119.4 229.0 L1120.4 227.4 L1121.4 225.9 L1122.4 225.1 L1123.4 225.1 L1124.5 224.9 L1125.5 225.3 L1126.5 225.6 L1127.5 225.5 L1128.5 225.5 L1129.5 225.0 L1130.5 224.7 L1131.5 224.5 L1132.6 223.2 L1133.6 222.6 L1134.6 222.5 L1135.6 222.0 L1136.6 221.7 L1137.6 222.5 L1138.6 223.2 L1139.7 222.6 L1140.7 221.5 L1141.7 221.4 L1142.7 221.5 L1143.7 220.3 L1144.7 219.6 L1145.7 219.0 L1146.7 219.0 L1147.8 219.6 L1148.8 219.6 L1149.8 219.8 L1150.8 219.6 L1151.8 218.8 L1152.8 217.8 L1153.8 217.4 L1154.8 217.7 L1155.9 217.3 L1156.9 217.1 L1157.9 216.8 L1158.9 216.2 L1159.9 216.0 L1160.9 215.6 L1161.9 216.0 L1163.0 216.1 L1164.0 215.6 L1165.0 216.1 L1166.0 216.0 L1167.0 215.1 L1168.0 214.6 L1169.0 214.8 L1170.0 215.4 L1171.1 214.7 L1172.1 213.3 L1173.1 213.0 L1174.1 213.2 L1175.1 212.6 L1176.1 211.9 L1177.1 211.6 L1178.1 211.6 L1179.2 211.0 L1180.2 210.8 L1181.2 210.1 L1182.2 210.2 L1183.2 211.0 L1184.2 210.7 L1185.2 209.9 L1186.2 209.6 L1187.3 210.3 L1188.3 209.9 L1189.3 208.9 L1190.3 208.8 L1191.3 209.4 L1192.3 209.2 L1193.3 208.5 L1194.4 208.4 L1195.4 207.7 L1196.4 207.0 L1197.4 207.7 L1198.4 208.2 L1199.4 206.5 L1200.4 205.3 L1201.4 205.1 L1202.5 205.7 L1203.5 206.2 L1204.5 205.2 L1205.5 204.7 L1206.5 204.6 L1207.5 204.9 L1208.5 205.0 L1209.5 204.4 L1210.6 203.5 L1211.6 203.7 L1212.6 204.2 L1213.6 204.4 L1214.6 203.6 L1215.6 203.1 L1216.6 202.7 L1217.6 202.1 L1218.7 201.9 L1219.7 202.1 L1220.7 202.0 L1221.7 201.7 L1222.7 201.2 L1223.7 201.0 L1224.7 201.3 L1225.8 201.3 L1226.8 200.5 L1227.8 200.3 L1228.8 200.8 L1229.8 200.5 L1230.8 200.8 L1231.8 201.2 L1232.8 200.1 L1233.9 199.2 L1234.9 199.6 L1235.9 199.4 L1236.9 198.8 L1237.9 199.3 L1238.9 199.4 L1239.9 198.6 L1240.9 197.7 L1242.0 197.5 L1243.0 197.9 L1244.0 197.8 L1245.0 197.5 L1246.0 197.6 L1247.0 197.8 L1248.0 197.4 L1249.0 196.4 L1250.1 195.6 L1251.1 194.4 L1252.1 195.1 L1253.1 196.0 L1254.1 195.7 L1255.1 195.1 L1256.1 194.8 L1257.2 194.5 L1258.2 194.5 L1259.2 194.4 L1260.2 193.6 L1261.2 193.0 L1262.2 193.8 L1263.2 194.0 L1264.2 193.1 L1265.3 192.4 L1266.3 192.3 L1267.3 192.3 L1268.3 192.7 L1269.3 192.8 L1270.3 192.1 L1271.3 191.5 L1272.3 190.8 L1273.4 191.2 L1274.4 192.3 L1275.4 192.0 L1276.4 192.3 L1277.4 192.7 L1278.4 191.6 L1279.4 191.2 L1280.4 191.5 L1281.5 191.8 L1282.5 191.6 L1283.5 191.2 L1284.5 191.2 L1285.5 190.5 L1286.5 189.9 L1287.5 189.7 L1288.6 189.5 L1289.6 189.7 L1290.6 190.1 L1291.6 189.9 L1292.6 188.8 L1293.6 188.1 L1294.6 188.3 L1295.6 188.6 L1296.7 188.7 L1297.7 189.3 L1298.7 189.0 L1299.7 188.3 L1300.7 187.8 L1301.7 187.7 L1302.7 187.8 L1303.7 188.0 L1304.8 187.5 L1305.8 187.3 L1306.8 187.9 L1307.8 187.6 L1308.8 186.4 L1309.8 185.2 L1310.8 184.8 L1311.8 184.4 L1312.9 184.6 L1313.9 185.4 L1314.9 185.7 L1315.9 185.5 L1316.9 184.4 L1317.9 184.0 L1318.9 184.0 L1320.0 183.9 L1321.0 183.9 L1322.0 183.9 L1323.0 183.6 L1324.0 183.4 L1325.0 184.2 L1326.0 184.3 L1327.0 183.4 L1328.1 182.6 L1329.1 182.7 L1330.1 182.8 L1331.1 182.4 L1332.1 182.9 L1333.1 183.9 L1334.1 184.0 L1335.1 183.8 L1336.2 182.9 L1337.2 182.1 L1338.2 181.1 L1339.2 180.5 L1340.2 181.3 L1341.2 181.6 L1342.2 182.2 L1343.3 182.9 L1344.3 182.2 L1345.3 181.4 L1346.3 180.9 L1347.3 181.2 L1348.3 181.1 L1349.3 180.2 L1350.3 180.2 L1351.4 180.6 L1352.4 180.4 L1353.4 179.7 L1354.4 178.7 L1355.4 178.6 L1356.4 179.2 L1357.4 178.6 L1358.4 178.4 L1359.5 178.2 L1360.5 178.1 L1361.5 178.5 L1362.5 178.3 L1363.5 178.8 L1364.5 178.7 L1365.5 178.0 L1366.5 176.5 L1367.6 176.0 L1368.6 176.4 L1369.6 176.8 L1370.6 176.8 L1371.6 175.7 L1372.6 175.4 L1373.6 175.8 L1374.7 176.4 L1375.7 176.6 L1376.7 176.1 L1377.7 175.6 L1378.7 176.1 L1379.7 175.5 L1380.7 174.5 L1381.7 174.1 L1382.8 174.0 L1383.8 174.4 L1384.8 174.3 L1385.8 173.9 L1386.8 174.0 L1387.8 174.4 L1388.8 175.1 L1389.8 175.0 L1390.9 173.9 L1391.9 174.2 L1392.9 174.3 L1393.9 173.8 L1394.9 174.3 L1395.9 174.7 L1396.9 174.1 L1397.9 173.4 L1399.0 172.8 L1400.0 172.4 L1401.0 172.2 L1402.0 172.4" stroke="#F8BA00" class="curve"/>
<path d="M916.8 399.3 L917.8 396.6 L918.8 393.9 L919.8 391.3 L920.9 389.0 L921.9 386.4 L922.9 383.6 L923.9 380.8 L924.9 378.4 L925.9 376.4 L926.9 374.2 L928.0 372.2 L929.0 370.1 L930.0 367.6 L931.0 365.6 L932.0 363.8 L933.0 361.9 L934.0 359.8 L935.0 358.1 L936.1 356.4 L937.1 354.6 L938.1 353.0 L939.1 351.5 L940.1 349.8 L941.1 348.0 L942.1 346.7 L943.1 345.2 L944.2 343.1 L945.2 341.6 L946.2 340.4 L947.2 339.3 L948.2 338.1 L949.2 337.0 L950.2 335.4 L951.2 334.0 L952.3 332.7 L953.3 331.5 L954.3 330.4 L955.3 329.3 L956.3 328.4 L957.3 327.1 L958.3 326.0 L959.4 325.0 L960.4 323.7 L961.4 322.5 L962.4 321.3 L963.4 320.1 L964.4 319.1 L965.4 317.9 L966.4 316.9 L967.5 316.1 L968.5 315.1 L969.5 314.4 L970.5 313.3 L971.5 312.3 L972.5 311.5 L973.5 311.2 L974.5 310.5 L975.6 309.4 L976.6 308.2 L977.6 307.2 L978.6 306.4 L979.6 305.8 L980.6 305.3 L981.6 304.6 L982.6 303.5 L983.7 302.1 L984.7 301.3 L985.7 300.7 L986.7 300.0 L987.7 299.7 L988.7 298.8 L989.7 298.3 L990.8 297.6 L991.8 297.2 L992.8 296.6 L993.8 295.4 L994.8 294.3 L995.8 293.8 L996.8 293.1 L997.8 292.4 L998.9 291.8 L999.9 291.1 L1000.9 290.7 L1001.9 290.6 L1002.9 289.8 L1003.9 289.0 L1004.9 288.6 L1005.9 288.0 L1007.0 287.6 L1008.0 286.8 L1009.0 286.4 L1010.0 285.7 L1011.0 284.6 L1012.0 284.0 L1013.0 284.2 L1014.1 283.8 L1015.1 283.3 L1016.1 283.4 L1017.1 281.7 L1018.1 280.8 L1019.1 280.9 L1020.1 280.0 L1021.1 279.5 L1022.2 279.8 L1023.2 280.3 L1024.2 279.5 L1025.2 278.5 L1026.2 278.1 L1027.2 277.7 L1028.2 277.8 L1029.2 278.0 L1030.3 276.9 L1031.3 276.0 L1032.3 275.4 L1033.3 275.0 L1034.3 274.3 L1035.3 273.3 L1036.3 272.5 L1037.3 272.6 L1038.4 271.9 L1039.4 272.2 L1040.4 272.7 L1041.4 272.3 L1042.4 271.3 L1043.4 271.1 L1044.4 270.1 L1045.5 269.7 L1046.5 269.9 L1047.5 269.5 L1048.5 268.6 L1049.5 268.0 L1050.5 267.6 L1051.5 267.6 L1052.5 267.5 L1053.6 267.1 L1054.6 267.0 L1055.6 266.2 L1056.6 266.1 L1057.6 266.5 L1058.6 266.3 L1059.6 265.9 L1060.6 265.4 L1061.7 263.8 L1062.7 263.4 L1063.7 264.0 L1064.7 263.2 L1065.7 262.0 L1066.7 262.4 L1067.7 263.4 L1068.7 263.9 L1069.8 262.9 L1070.8 261.2 L1071.8 261.0 L1072.8 261.3 L1073.8 260.6 L1074.8 260.5 L1075.8 260.6 L1076.9 260.2 L1077.9 259.4 L1078.9 258.5 L1079.9 259.0 L1080.9 258.6 L1081.9 257.2 L1082.9 257.0 L1083.9 257.2 L1085.0 256.2 L1086.0 256.3 L1087.0 256.9 L1088.0 256.3 L1089.0 256.5 L1090.0 256.3 L1091.0 256.7 L1092.0 256.5 L1093.1 255.1 L1094.1 254.5 L1095.1 254.5 L1096.1 254.3 L1097.1 254.3 L1098.1 254.3 L1099.1 254.2 L1100.1 253.3 L1101.2 253.1 L1102.2 253.1 L1103.2 253.1 L1104.2 253.1 L1105.2 253.2 L1106.2 252.7 L1107.2 252.0 L1108.3 251.2 L1109.3 251.5 L1110.3 251.3 L1111.3 250.6 L1112.3 249.8 L1113.3 249.6 L1114.3 249.2 L1115.3 248.5 L1116.4 248.8 L1117.4 248.3 L1118.4 247.6 L1119.4 248.3 L1120.4 248.1 L1121.4 248.2 L1122.4 248.8 L1123.4 248.3 L1124.5 247.7 L1125.5 248.0 L1126.5 247.4 L1127.5 246.5 L1128.5 246.6 L1129.5 246.6 L1130.5 246.7 L1131.5 246.7 L1132.6 246.4 L1133.6 245.8 L1134.6 245.1 L1135.6 244.4 L1136.6 243.6 L1137.6 243.8 L1138.6 243.6 L1139.7 243.0 L1140.7 243.8 L1141.7 244.3 L1142.7 244.1 L1143.7 243.9 L1144.7 242.9 L1145.7 242.0 L1146.7 242.2 L1147.8 242.7 L1148.8 242.4 L1149.8 241.7 L1150.8 241.3 L1151.8 241.8 L1152.8 241.6 L1153.8 240.8 L1154.8 240.7 L1155.9 240.6 L1156.9 240.6 L1157.9 240.9 L1158.9 240.4 L1159.9 239.7 L1160.9 239.8 L1161.9 239.8 L1163.0 239.3 L1164.0 238.4 L1165.0 237.8 L1166.0 238.7 L1167.0 238.3 L1168.0 237.4 L1169.0 237.8 L1170.0 238.3 L1171.1 238.4 L1172.1 237.4 L1173.1 236.7 L1174.1 236.7 L1175.1 237.0 L1176.1 236.8 L1177.1 236.6 L1178.1 236.2 L1179.2 236.1 L1180.2 236.2 L1181.2 236.8 L1182.2 237.1 L1183.2 237.5 L1184.2 236.2 L1185.2 235.0 L1186.2 234.5 L1187.3 234.0 L1188.3 234.9 L1189.3 235.2 L1190.3 235.2 L1191.3 234.9 L1192.3 234.9 L1193.3 235.0 L1194.4 234.1 L1195.4 232.7 L1196.4 232.8 L1197.4 233.0 L1198.4 233.5 L1199.4 233.0 L1200.4 232.4 L1201.4 232.5 L1202.5 232.6 L1203.5 232.3 L1204.5 231.7 L1205.5 231.0 L1206.5 231.0 L1207.5 232.3 L1208.5 232.7 L1209.5 231.7 L1210.6 230.7 L1211.6 230.0 L1212.6 229.8 L1213.6 229.9 L1214.6 229.1 L1215.6 229.8 L1216.6 230.4 L1217.6 229.5 L1218.7 229.1 L1219.7 229.5 L1220.7 230.0 L1221.7 229.5 L1222.7 228.8 L1223.7 228.5 L1224.7 227.7 L1225.8 227.0 L1226.8 226.6 L1227.8 226.8 L1228.8 227.0 L1229.8 226.6 L1230.8 226.6 L1231.8 226.8 L1232.8 227.4 L1233.9 228.4 L1234.9 228.4 L1235.9 227.3 L1236.9 226.8 L1237.9 226.3 L1238.9 226.1 L1239.9 227.0 L1240.9 227.1 L1242.0 225.9 L1243.0 225.3 L1244.0 225.5 L1245.0 225.9 L1246.0 226.1 L1247.0 225.5 L1248.0 225.0 L1249.0 224.2 L1250.1 223.8 L1251.1 224.1 L1252.1 223.8 L1253.1 223.4 L1254.1 222.8 L1255.1 222.3 L1256.1 222.4 L1257.2 222.4 L1258.2 222.5 L1259.2 222.9 L1260.2 222.7 L1261.2 222.1 L1262.2 221.3 L1263.2 220.7 L1264.2 220.8 L1265.3 222.0 L1266.3 222.5 L1267.3 222.9 L1268.3 222.7 L1269.3 222.2 L1270.3 220.8 L1271.3 220.6 L1272.3 221.2 L1273.4 220.6 L1274.4 219.6 L1275.4 219.0 L1276.4 219.3 L1277.4 219.8 L1278.4 219.8 L1279.4 219.4 L1280.4 219.5 L1281.5 220.0 L1282.5 219.9 L1283.5 219.2 L1284.5 219.3 L1285.5 219.0 L1286.5 218.4 L1287.5 218.2 L1288.6 218.1 L1289.6 218.5 L1290.6 218.4 L1291.6 219.0 L1292.6 219.3 L1293.6 218.8 L1294.6 218.1 L1295.6 218.2 L1296.7 218.0 L1297.7 217.1 L1298.7 217.3 L1299.7 217.1 L1300.7 216.8 L1301.7 216.7 L1302.7 216.2 L1303.7 215.9 L1304.8 215.8 L1305.8 215.6 L1306.8 216.2 L1307.8 216.4 L1308.8 216.0 L1309.8 215.9 L1310.8 215.4 L1311.8 215.3 L1312.9 215.1 L1313.9 214.6 L1314.9 215.1 L1315.9 216.2 L1316.9 215.3 L1317.9 214.3 L1318.9 214.0 L1320.0 214.5 L1321.0 214.6 L1322.0 213.9 L1323.0 213.8 L1324.0 214.9 L1325.0 214.9 L1326.0 214.7 L1327.0 214.9 L1328.1 213.8 L1329.1 212.8 L1330.1 213.1 L1331.1 212.9 L1332.1 212.8 L1333.1 212.0 L1334.1 211.3 L1335.1 211.0 L1336.2 211.2 L1337.2 211.0 L1338.2 211.2 L1339.2 211.2 L1340.2 210.7 L1341.2 211.0 L1342.2 210.4 L1343.3 209.3 L1344.3 209.9 L1345.3 210.8 L1346.3 210.7 L1347.3 210.7 L1348.3 210.8 L1349.3 211.0 L1350.3 210.6 L1351.4 210.6 L1352.4 209.8 L1353.4 209.0 L1354.4 208.3 L1355.4 208.3 L1356.4 209.9 L1357.4 210.4 L1358.4 210.0 L1359.5 209.2 L1360.5 208.5 L1361.5 208.7 L1362.5 209.1 L1363.5 209.3 L1364.5 208.9 L1365.5 208.5 L1366.5 208.5 L1367.6 208.6 L1368.6 207.9 L1369.6 207.2 L1370.6 207.4 L1371.6 207.6 L1372.6 206.8 L1373.6 206.3 L1374.7 206.8 L1375.7 207.7 L1376.7 207.8 L1377.7 207.2 L1378.7 207.3 L1379.7 207.0 L1380.7 205.8 L1381.7 205.1 L1382.8 204.9 L1383.8 204.6 L1384.8 205.0 L1385.8 205.6 L1386.8 205.0 L1387.8 204.8 L1388.8 204.4 L1389.8 203.9 L1390.9 203.8 L1391.9 203.7 L1392.9 204.3 L1393.9 204.9 L1394.9 205.0 L1395.9 205.0 L1396.9 205.2 L1397.9 204.6 L1399.0 204.3 L1400.0 204.8 L1401.0 205.6 L1402.0 205.2" stroke="#00A548" class="curve"/>
<text x="1159.0" y="500.3" class="title" text-anchor="middle" textLength="93" lengthAdjust="spacing">time (min)</text>
<text transform="translate(854.8,260.2) rotate(-90)" class="title" text-anchor="middle" textLength="200.5" lengthAdjust="spacing">Fluorescence inteisity</text>
<line x1="1438.6" y1="223.4" x2="1473.1" y2="223.4" stroke="#000000" class="leg"/>
<text x="1476.4" y="229.2" class="legt" textLength="115" lengthAdjust="spacing">DNARNA only</text>
<line x1="1438.6" y1="258.8" x2="1473.1" y2="258.8" stroke="#0A6DBA" class="leg"/>
<text x="1476.4" y="264.6" class="legt" textLength="158" lengthAdjust="spacing">+ ODGGal3 1 equiv</text>
<line x1="1438.6" y1="294.2" x2="1473.1" y2="294.2" stroke="#EC0E16" class="leg"/>
<text x="1476.4" y="300.0" class="legt" textLength="158" lengthAdjust="spacing">+ ODGGal3 3 equiv</text>
<line x1="1438.6" y1="329.6" x2="1473.1" y2="329.6" stroke="#F8BA00" class="leg"/>
<text x="1476.4" y="335.4" class="legt" textLength="158" lengthAdjust="spacing">+ ODGGal3 5 equiv</text>
<line x1="1438.6" y1="365.0" x2="1473.1" y2="365.0" stroke="#00A548" class="leg"/>
<text x="1476.4" y="370.8" class="legt" textLength="169.5" lengthAdjust="spacing">+ ODGGal3 10 equiv</text>
</g>
</svg>
</body></html>
